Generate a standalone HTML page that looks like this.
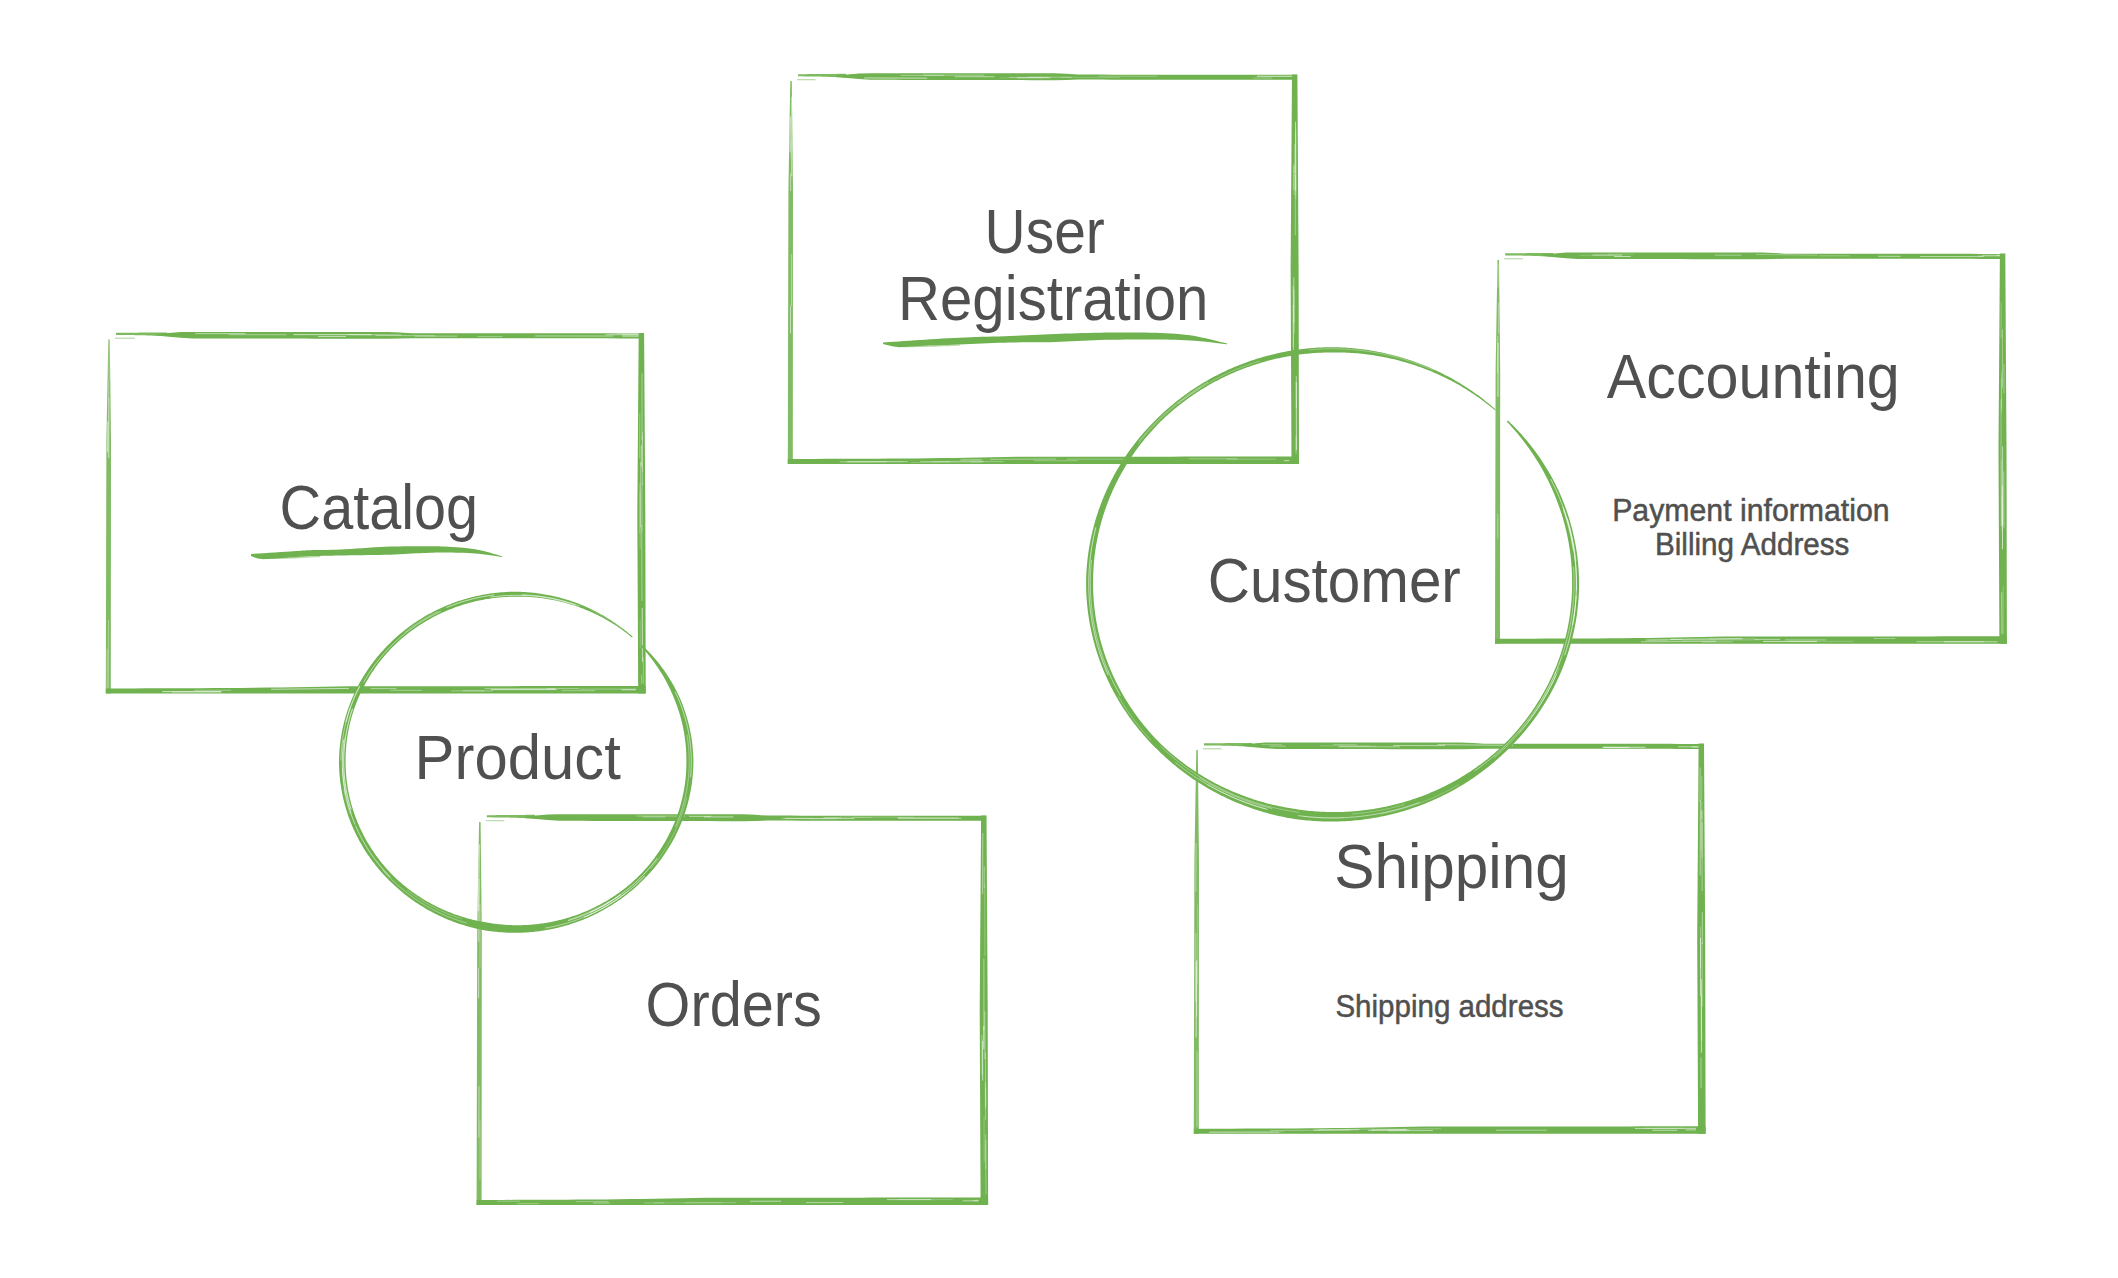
<!DOCTYPE html>
<html><head><meta charset="utf-8"><style>
html,body{margin:0;padding:0;background:#fff;width:2118px;height:1278px;overflow:hidden}
svg{display:block}
text{font-family:"Liberation Sans",sans-serif;fill:#505050}
</style></head><body>
<svg width="2118" height="1278" viewBox="0 0 2118 1278">
<rect width="2118" height="1278" fill="#fff"/>
<polygon points="790.30,81.00 790.13,90.58 789.97,100.15 789.80,109.72 789.64,119.30 789.47,128.88 789.31,138.45 789.14,148.03 788.98,157.60 788.81,167.18 788.65,176.75 788.48,186.32 788.39,195.90 788.37,205.47 788.35,215.05 788.33,224.62 788.31,234.20 788.28,243.78 788.26,253.35 788.24,262.93 788.22,272.50 788.20,282.07 788.18,291.65 788.16,301.23 788.14,310.80 788.12,320.38 788.09,329.95 788.07,339.52 788.05,349.10 788.03,358.68 788.01,368.25 787.99,377.82 787.97,387.40 787.95,396.98 787.93,406.55 787.91,416.12 787.88,425.70 787.86,435.27 787.84,444.85 787.82,454.43 787.80,464.00 792.80,464.00 792.81,454.43 792.81,444.85 792.82,435.27 792.83,425.70 792.84,416.12 792.84,406.55 792.85,396.98 792.86,387.40 792.86,377.82 792.87,368.25 792.88,358.68 792.88,349.10 792.89,339.52 792.90,329.95 792.91,320.38 792.91,310.80 792.92,301.23 792.93,291.65 792.93,282.07 792.94,272.50 792.95,262.93 792.95,253.35 792.96,243.78 792.97,234.20 792.98,224.62 792.98,215.05 792.99,205.47 793.00,195.90 792.95,186.32 792.84,176.75 792.74,167.18 792.64,157.60 792.53,148.03 792.43,138.45 792.32,128.88 792.22,119.30 792.11,109.72 792.01,100.15 791.90,90.58 791.80,81.00" fill="#6fb24f" fill-opacity="0.88"/>
<line x1="791.60" y1="254.3" x2="791.54" y2="305.6" stroke="#fff" stroke-width="0.73" stroke-opacity="0.55" stroke-linecap="round"/>
<line x1="790.56" y1="306.0" x2="790.52" y2="333.0" stroke="#fff" stroke-width="0.81" stroke-opacity="0.67" stroke-linecap="round"/>
<line x1="790.42" y1="117.0" x2="790.11" y2="151.8" stroke="#fff" stroke-width="0.90" stroke-opacity="0.63" stroke-linecap="round"/>
<line x1="791.45" y1="97.0" x2="791.72" y2="175.9" stroke="#fff" stroke-width="0.83" stroke-opacity="0.60" stroke-linecap="round"/>
<line x1="790.90" y1="141.3" x2="790.86" y2="157.3" stroke="#fff" stroke-width="0.53" stroke-opacity="0.43" stroke-linecap="round"/>
<line x1="790.68" y1="173.7" x2="790.62" y2="190.6" stroke="#fff" stroke-width="0.72" stroke-opacity="0.69" stroke-linecap="round"/>
<polygon points="798.00,74.20 799.20,74.19 800.40,74.18 801.60,74.17 802.80,74.16 804.00,74.15 805.20,74.14 806.40,74.13 807.60,74.12 808.80,74.11 810.00,74.10 811.20,74.09 812.40,74.08 813.60,74.07 814.80,74.06 816.00,74.05 817.20,74.04 818.40,74.03 819.60,74.02 820.80,74.01 822.00,74.00 823.19,73.99 824.39,73.98 825.59,73.97 826.79,73.96 827.99,73.95 829.19,73.94 830.39,73.93 831.59,73.92 832.79,73.91 833.99,73.90 835.19,73.89 836.39,73.88 837.59,73.87 838.79,73.86 839.99,73.85 841.19,73.84 842.39,73.83 843.59,73.82 844.79,73.81 845.99,73.80 845.99,77.50 844.79,77.46 843.59,77.42 842.39,77.37 841.19,77.33 839.99,77.29 838.79,77.25 837.59,77.20 836.39,77.16 835.19,77.12 833.99,77.08 832.79,77.03 831.59,76.99 830.39,76.95 829.19,76.91 827.99,76.86 826.79,76.82 825.59,76.78 824.39,76.74 823.19,76.69 822.00,76.65 820.80,76.61 819.60,76.59 818.40,76.57 817.20,76.56 816.00,76.54 814.80,76.52 813.60,76.51 812.40,76.49 811.20,76.48 810.00,76.46 808.80,76.44 807.60,76.43 806.40,76.41 805.20,76.40 804.00,76.38 802.80,76.36 801.60,76.35 800.40,76.33 799.20,76.32 798.00,76.30" fill="#6fb24f" fill-opacity="0.90"/>
<polygon points="797.00,79.00 797.46,79.00 797.92,79.00 798.38,79.00 798.85,79.00 799.31,79.00 799.77,79.00 800.23,79.00 800.69,79.00 801.15,79.00 801.61,79.00 802.07,79.00 802.53,79.00 803.00,79.00 803.46,79.00 803.92,79.00 804.38,79.00 804.84,79.00 805.30,79.00 805.76,79.00 806.23,79.00 806.69,79.00 807.15,79.00 807.61,79.00 808.07,79.00 808.53,79.00 808.99,79.00 809.45,79.00 809.92,79.00 810.38,79.00 810.84,79.00 811.30,79.00 811.76,79.00 812.22,79.00 812.68,79.00 813.14,79.00 813.61,79.00 814.07,79.00 814.53,79.00 814.99,79.00 815.45,79.00 815.45,80.30 814.99,80.30 814.53,80.30 814.07,80.30 813.61,80.30 813.14,80.30 812.68,80.30 812.22,80.30 811.76,80.30 811.30,80.30 810.84,80.30 810.38,80.30 809.92,80.30 809.45,80.30 808.99,80.30 808.53,80.30 808.07,80.30 807.61,80.30 807.15,80.30 806.69,80.30 806.23,80.30 805.76,80.30 805.30,80.30 804.84,80.30 804.38,80.30 803.92,80.30 803.46,80.30 803.00,80.30 802.53,80.30 802.07,80.30 801.61,80.30 801.15,80.30 800.69,80.30 800.23,80.30 799.77,80.30 799.31,80.30 798.85,80.30 798.38,80.30 797.92,80.30 797.46,80.30 797.00,80.30" fill="#6fb24f" fill-opacity="0.45"/>
<polygon points="835.81,75.50 847.34,74.50 858.87,73.51 870.40,73.30 881.93,73.30 893.46,73.30 904.99,73.30 916.52,73.30 928.05,73.30 939.58,73.30 951.11,73.30 962.64,73.30 974.17,73.30 985.70,73.30 997.23,73.30 1008.76,73.30 1020.29,73.30 1031.82,73.30 1043.35,73.30 1054.88,73.30 1066.40,73.86 1077.93,74.60 1089.46,74.61 1100.99,74.62 1112.52,74.63 1124.05,74.64 1135.58,74.65 1147.11,74.66 1158.64,74.68 1170.17,74.69 1181.70,74.70 1193.23,74.71 1204.76,74.72 1216.29,74.73 1227.82,74.74 1239.35,74.75 1250.88,74.76 1262.41,74.77 1273.94,74.78 1285.47,74.79 1297.00,74.80 1297.00,79.80 1285.47,79.79 1273.94,79.78 1262.41,79.77 1250.88,79.76 1239.35,79.75 1227.82,79.74 1216.29,79.73 1204.76,79.72 1193.23,79.71 1181.70,79.70 1170.17,79.69 1158.64,79.68 1147.11,79.66 1135.58,79.65 1124.05,79.64 1112.52,79.63 1100.99,79.62 1089.46,79.61 1077.93,79.60 1066.40,79.94 1054.88,80.19 1043.35,80.17 1031.82,80.14 1020.29,80.12 1008.76,80.09 997.23,80.07 985.70,80.05 974.17,80.02 962.64,80.00 951.11,79.98 939.58,79.95 928.05,79.93 916.52,79.90 904.99,79.88 893.46,79.86 881.93,79.83 870.40,79.81 858.87,79.11 847.34,78.06 835.81,77.00" fill="#6fb24f"/>
<line x1="1061.8" y1="77.35" x2="1119.5" y2="77.56" stroke="#fff" stroke-width="0.57" stroke-opacity="0.35" stroke-linecap="round"/>
<line x1="1017.4" y1="77.76" x2="1050.3" y2="77.81" stroke="#fff" stroke-width="0.85" stroke-opacity="0.59" stroke-linecap="round"/>
<line x1="1098.9" y1="76.23" x2="1156.9" y2="76.29" stroke="#fff" stroke-width="0.72" stroke-opacity="0.41" stroke-linecap="round"/>
<line x1="1253.3" y1="78.06" x2="1272.1" y2="78.07" stroke="#fff" stroke-width="0.54" stroke-opacity="0.62" stroke-linecap="round"/>
<line x1="1000.7" y1="77.85" x2="1042.0" y2="77.91" stroke="#fff" stroke-width="0.51" stroke-opacity="0.37" stroke-linecap="round"/>
<line x1="1257.3" y1="76.24" x2="1295.0" y2="76.28" stroke="#fff" stroke-width="0.99" stroke-opacity="0.73" stroke-linecap="round"/>
<line x1="901.0" y1="75.39" x2="943.5" y2="75.41" stroke="#fff" stroke-width="0.66" stroke-opacity="0.60" stroke-linecap="round"/>
<line x1="923.7" y1="75.12" x2="984.0" y2="75.16" stroke="#fff" stroke-width="0.59" stroke-opacity="0.68" stroke-linecap="round"/>
<line x1="1028.9" y1="77.05" x2="1071.1" y2="77.27" stroke="#fff" stroke-width="0.74" stroke-opacity="0.50" stroke-linecap="round"/>
<line x1="864.6" y1="77.95" x2="926.8" y2="78.16" stroke="#fff" stroke-width="0.99" stroke-opacity="0.62" stroke-linecap="round"/>
<line x1="1009.3" y1="77.34" x2="1047.9" y2="77.39" stroke="#fff" stroke-width="0.84" stroke-opacity="0.40" stroke-linecap="round"/>
<line x1="955.4" y1="76.68" x2="994.0" y2="76.72" stroke="#fff" stroke-width="0.91" stroke-opacity="0.55" stroke-linecap="round"/>
<polygon points="1292.00,74.50 1291.93,84.24 1291.86,93.97 1291.79,103.71 1291.72,113.45 1291.65,123.19 1291.58,132.93 1291.51,142.66 1291.44,152.40 1291.37,162.14 1291.30,171.88 1291.23,181.61 1291.16,191.35 1291.09,201.09 1291.02,210.82 1290.95,220.56 1290.88,230.30 1290.81,240.04 1290.74,249.78 1290.67,259.51 1290.60,269.25 1290.65,278.99 1290.69,288.73 1290.74,298.46 1290.78,308.20 1290.83,317.94 1290.87,327.68 1290.92,337.41 1290.96,347.15 1291.01,356.89 1291.05,366.62 1291.10,376.36 1291.14,386.10 1291.19,395.84 1291.23,405.57 1291.28,415.31 1291.32,425.05 1291.37,434.79 1291.41,444.52 1291.46,454.26 1291.50,464.00 1299.00,464.00 1298.98,454.26 1298.96,444.52 1298.94,434.79 1298.92,425.05 1298.90,415.31 1298.88,405.57 1298.86,395.84 1298.84,386.10 1298.82,376.36 1298.80,366.62 1298.78,356.89 1298.76,347.15 1298.74,337.41 1298.72,327.68 1298.70,317.94 1298.68,308.20 1298.66,298.46 1298.64,288.73 1298.62,278.99 1298.60,269.25 1298.54,259.51 1298.48,249.78 1298.42,240.04 1298.36,230.30 1298.30,220.56 1298.24,210.82 1298.18,201.09 1298.12,191.35 1298.06,181.61 1298.00,171.88 1297.94,162.14 1297.88,152.40 1297.82,142.66 1297.76,132.93 1297.70,123.19 1297.64,113.45 1297.58,103.71 1297.52,93.97 1297.46,84.24 1297.40,74.50" fill="#6fb24f"/>
<line x1="1295.27" y1="175.4" x2="1295.31" y2="234.9" stroke="#fff" stroke-width="0.92" stroke-opacity="0.42" stroke-linecap="round"/>
<line x1="1293.75" y1="164.7" x2="1293.69" y2="189.3" stroke="#fff" stroke-width="0.87" stroke-opacity="0.40" stroke-linecap="round"/>
<line x1="1293.81" y1="277.8" x2="1293.91" y2="306.7" stroke="#fff" stroke-width="0.72" stroke-opacity="0.69" stroke-linecap="round"/>
<line x1="1293.84" y1="306.8" x2="1293.90" y2="322.7" stroke="#fff" stroke-width="0.57" stroke-opacity="0.70" stroke-linecap="round"/>
<line x1="1296.24" y1="382.5" x2="1296.43" y2="449.9" stroke="#fff" stroke-width="0.87" stroke-opacity="0.73" stroke-linecap="round"/>
<line x1="1296.31" y1="376.5" x2="1296.40" y2="408.1" stroke="#fff" stroke-width="0.74" stroke-opacity="0.65" stroke-linecap="round"/>
<line x1="1294.13" y1="290.1" x2="1294.28" y2="333.0" stroke="#fff" stroke-width="0.71" stroke-opacity="0.48" stroke-linecap="round"/>
<line x1="1295.58" y1="122.1" x2="1295.68" y2="190.4" stroke="#fff" stroke-width="0.99" stroke-opacity="0.63" stroke-linecap="round"/>
<line x1="1293.21" y1="286.4" x2="1293.45" y2="350.0" stroke="#fff" stroke-width="0.84" stroke-opacity="0.53" stroke-linecap="round"/>
<line x1="1294.74" y1="144.4" x2="1294.73" y2="172.6" stroke="#fff" stroke-width="0.63" stroke-opacity="0.53" stroke-linecap="round"/>
<line x1="1293.26" y1="305.7" x2="1293.42" y2="346.4" stroke="#fff" stroke-width="0.75" stroke-opacity="0.44" stroke-linecap="round"/>
<line x1="1294.21" y1="166.6" x2="1294.17" y2="194.3" stroke="#fff" stroke-width="0.54" stroke-opacity="0.61" stroke-linecap="round"/>
<line x1="1295.99" y1="436.6" x2="1296.04" y2="454.0" stroke="#fff" stroke-width="0.97" stroke-opacity="0.37" stroke-linecap="round"/>
<line x1="1295.71" y1="131.3" x2="1295.83" y2="198.7" stroke="#fff" stroke-width="0.82" stroke-opacity="0.41" stroke-linecap="round"/>
<polygon points="787.80,459.00 800.58,458.95 813.36,458.90 826.14,458.85 838.92,458.80 851.70,458.75 864.48,458.70 877.26,458.65 890.04,458.61 902.82,458.56 915.60,458.51 928.38,458.31 941.16,458.10 953.94,457.89 966.72,457.67 979.50,457.46 992.28,457.25 1005.06,457.03 1017.84,456.82 1030.62,456.79 1043.40,456.77 1056.18,456.76 1068.96,456.75 1081.74,456.73 1094.52,456.72 1107.30,456.71 1120.08,456.69 1132.86,456.68 1145.64,456.66 1158.42,456.65 1171.20,456.64 1183.98,456.62 1196.76,456.61 1209.54,456.60 1222.32,456.58 1235.10,456.57 1247.88,456.55 1260.66,456.54 1273.44,456.53 1286.22,456.51 1299.00,456.50 1299.00,464.00 1286.22,464.00 1273.44,464.00 1260.66,464.00 1247.88,464.00 1235.10,464.00 1222.32,464.00 1209.54,464.00 1196.76,464.00 1183.98,464.00 1171.20,464.00 1158.42,464.00 1145.64,464.00 1132.86,464.00 1120.08,464.00 1107.30,464.00 1094.52,464.00 1081.74,464.00 1068.96,464.00 1056.18,464.00 1043.40,464.00 1030.62,464.00 1017.84,464.00 1005.06,464.00 992.28,464.00 979.50,464.00 966.72,464.00 953.94,464.00 941.16,464.00 928.38,464.00 915.60,464.00 902.82,464.00 890.04,464.00 877.26,464.00 864.48,464.00 851.70,464.00 838.92,464.00 826.14,464.00 813.36,464.00 800.58,464.00 787.80,464.00" fill="#6fb24f"/>
<line x1="846.9" y1="461.78" x2="907.5" y2="461.68" stroke="#fff" stroke-width="0.97" stroke-opacity="0.46" stroke-linecap="round"/>
<line x1="920.6" y1="461.66" x2="983.3" y2="461.22" stroke="#fff" stroke-width="0.65" stroke-opacity="0.62" stroke-linecap="round"/>
<line x1="990.4" y1="459.36" x2="1055.9" y2="459.00" stroke="#fff" stroke-width="0.61" stroke-opacity="0.71" stroke-linecap="round"/>
<line x1="971.2" y1="461.77" x2="1003.2" y2="461.59" stroke="#fff" stroke-width="0.82" stroke-opacity="0.41" stroke-linecap="round"/>
<line x1="1066.9" y1="459.16" x2="1125.1" y2="459.12" stroke="#fff" stroke-width="0.83" stroke-opacity="0.40" stroke-linecap="round"/>
<line x1="960.8" y1="459.97" x2="981.3" y2="459.74" stroke="#fff" stroke-width="0.99" stroke-opacity="0.51" stroke-linecap="round"/>
<line x1="1284.3" y1="460.66" x2="1289.0" y2="460.66" stroke="#fff" stroke-width="0.94" stroke-opacity="0.62" stroke-linecap="round"/>
<line x1="849.2" y1="461.73" x2="902.5" y2="461.64" stroke="#fff" stroke-width="0.59" stroke-opacity="0.39" stroke-linecap="round"/>
<line x1="1227.0" y1="459.15" x2="1275.4" y2="459.12" stroke="#fff" stroke-width="0.73" stroke-opacity="0.44" stroke-linecap="round"/>
<line x1="1189.1" y1="458.84" x2="1236.7" y2="458.81" stroke="#fff" stroke-width="0.91" stroke-opacity="0.39" stroke-linecap="round"/>
<line x1="932.9" y1="461.81" x2="949.8" y2="461.70" stroke="#fff" stroke-width="0.56" stroke-opacity="0.56" stroke-linecap="round"/>
<line x1="840.0" y1="461.88" x2="886.3" y2="461.81" stroke="#fff" stroke-width="0.77" stroke-opacity="0.53" stroke-linecap="round"/>
<line x1="1034.0" y1="460.74" x2="1077.4" y2="460.72" stroke="#fff" stroke-width="0.55" stroke-opacity="0.54" stroke-linecap="round"/>
<line x1="911.0" y1="462.46" x2="982.2" y2="462.15" stroke="#fff" stroke-width="0.53" stroke-opacity="0.41" stroke-linecap="round"/>
<polygon points="108.30,339.60 108.13,348.45 107.97,357.30 107.80,366.14 107.64,374.99 107.47,383.84 107.30,392.69 107.14,401.53 106.97,410.38 106.81,419.23 106.64,428.08 106.47,436.92 106.39,445.77 106.37,454.62 106.35,463.47 106.33,472.31 106.30,481.16 106.28,490.01 106.26,498.86 106.24,507.70 106.22,516.55 106.20,525.40 106.18,534.25 106.16,543.09 106.14,551.94 106.12,560.79 106.09,569.63 106.07,578.48 106.05,587.33 106.03,596.18 106.01,605.03 105.99,613.87 105.97,622.72 105.95,631.57 105.93,640.41 105.91,649.26 105.88,658.11 105.86,666.96 105.84,675.81 105.82,684.65 105.80,693.50 110.80,693.50 110.81,684.65 110.81,675.81 110.82,666.96 110.83,658.11 110.84,649.26 110.84,640.41 110.85,631.57 110.86,622.72 110.86,613.87 110.87,605.03 110.88,596.18 110.88,587.33 110.89,578.48 110.90,569.63 110.91,560.79 110.91,551.94 110.92,543.09 110.93,534.25 110.93,525.40 110.94,516.55 110.95,507.70 110.95,498.86 110.96,490.01 110.97,481.16 110.98,472.31 110.98,463.47 110.99,454.62 111.00,445.77 110.95,436.92 110.85,428.08 110.74,419.23 110.64,410.38 110.53,401.53 110.43,392.69 110.32,383.84 110.22,374.99 110.11,366.14 110.01,357.30 109.90,348.45 109.80,339.60" fill="#6fb24f" fill-opacity="0.88"/>
<line x1="109.07" y1="398.0" x2="108.99" y2="457.8" stroke="#fff" stroke-width="0.74" stroke-opacity="0.44" stroke-linecap="round"/>
<line x1="108.45" y1="620.1" x2="108.34" y2="687.6" stroke="#fff" stroke-width="0.75" stroke-opacity="0.44" stroke-linecap="round"/>
<line x1="109.11" y1="340.7" x2="109.03" y2="379.8" stroke="#fff" stroke-width="0.53" stroke-opacity="0.67" stroke-linecap="round"/>
<line x1="107.85" y1="421.8" x2="107.63" y2="451.9" stroke="#fff" stroke-width="1.00" stroke-opacity="0.65" stroke-linecap="round"/>
<line x1="107.22" y1="649.3" x2="107.14" y2="693.5" stroke="#fff" stroke-width="0.66" stroke-opacity="0.55" stroke-linecap="round"/>
<line x1="108.73" y1="380.6" x2="108.37" y2="457.5" stroke="#fff" stroke-width="0.58" stroke-opacity="0.68" stroke-linecap="round"/>
<polygon points="116.00,332.80 117.28,332.79 118.56,332.78 119.84,332.77 121.11,332.76 122.39,332.75 123.67,332.74 124.95,332.73 126.23,332.72 127.51,332.71 128.79,332.70 130.07,332.69 131.34,332.68 132.62,332.67 133.90,332.66 135.18,332.65 136.46,332.64 137.74,332.63 139.02,332.62 140.29,332.61 141.57,332.60 142.85,332.59 144.13,332.58 145.41,332.57 146.69,332.56 147.97,332.55 149.25,332.54 150.52,332.53 151.80,332.52 153.08,332.51 154.36,332.50 155.64,332.49 156.92,332.48 158.20,332.47 159.47,332.46 160.75,332.45 162.03,332.44 163.31,332.43 164.59,332.42 165.87,332.41 167.15,332.40 167.15,336.10 165.87,336.06 164.59,336.01 163.31,335.97 162.03,335.93 160.75,335.89 159.47,335.84 158.20,335.80 156.92,335.76 155.64,335.71 154.36,335.67 153.08,335.63 151.80,335.59 150.52,335.54 149.25,335.50 147.97,335.46 146.69,335.42 145.41,335.37 144.13,335.33 142.85,335.29 141.57,335.24 140.29,335.20 139.02,335.18 137.74,335.17 136.46,335.15 135.18,335.14 133.90,335.12 132.62,335.11 131.34,335.09 130.07,335.07 128.79,335.06 127.51,335.04 126.23,335.03 124.95,335.01 123.67,334.99 122.39,334.98 121.11,334.96 119.84,334.95 118.56,334.93 117.28,334.92 116.00,334.90" fill="#6fb24f" fill-opacity="0.90"/>
<polygon points="115.00,337.60 115.50,337.60 115.99,337.60 116.49,337.60 116.99,337.60 117.49,337.60 117.98,337.60 118.48,337.60 118.98,337.60 119.47,337.60 119.97,337.60 120.47,337.60 120.97,337.60 121.46,337.60 121.96,337.60 122.46,337.60 122.95,337.60 123.45,337.60 123.95,337.60 124.45,337.60 124.94,337.60 125.44,337.60 125.94,337.60 126.43,337.60 126.93,337.60 127.43,337.60 127.93,337.60 128.42,337.60 128.92,337.60 129.42,337.60 129.91,337.60 130.41,337.60 130.91,337.60 131.41,337.60 131.90,337.60 132.40,337.60 132.90,337.60 133.39,337.60 133.89,337.60 134.39,337.60 134.88,337.60 134.88,338.90 134.39,338.90 133.89,338.90 133.39,338.90 132.90,338.90 132.40,338.90 131.90,338.90 131.41,338.90 130.91,338.90 130.41,338.90 129.91,338.90 129.42,338.90 128.92,338.90 128.42,338.90 127.93,338.90 127.43,338.90 126.93,338.90 126.43,338.90 125.94,338.90 125.44,338.90 124.94,338.90 124.45,338.90 123.95,338.90 123.45,338.90 122.95,338.90 122.46,338.90 121.96,338.90 121.46,338.90 120.97,338.90 120.47,338.90 119.97,338.90 119.47,338.90 118.98,338.90 118.48,338.90 117.98,338.90 117.49,338.90 116.99,338.90 116.49,338.90 115.99,338.90 115.50,338.90 115.00,338.90" fill="#6fb24f" fill-opacity="0.45"/>
<polygon points="156.39,334.10 168.58,333.10 180.76,332.11 192.94,331.90 205.12,331.90 217.31,331.90 229.49,331.90 241.67,331.90 253.85,331.90 266.04,331.90 278.22,331.90 290.40,331.90 302.59,331.90 314.77,331.90 326.95,331.90 339.13,331.90 351.32,331.90 363.50,331.90 375.68,331.90 387.86,331.90 400.05,332.47 412.23,333.20 424.41,333.21 436.59,333.22 448.78,333.23 460.96,333.24 473.14,333.25 485.33,333.26 497.51,333.28 509.69,333.29 521.87,333.30 534.06,333.31 546.24,333.32 558.42,333.33 570.60,333.34 582.79,333.35 594.97,333.36 607.15,333.37 619.33,333.38 631.52,333.39 643.70,333.40 643.70,338.40 631.52,338.39 619.33,338.38 607.15,338.37 594.97,338.36 582.79,338.35 570.60,338.34 558.42,338.33 546.24,338.32 534.06,338.31 521.87,338.30 509.69,338.29 497.51,338.28 485.33,338.26 473.14,338.25 460.96,338.24 448.78,338.23 436.59,338.22 424.41,338.21 412.23,338.20 400.05,338.54 387.86,338.79 375.68,338.77 363.50,338.74 351.32,338.72 339.13,338.69 326.95,338.67 314.77,338.65 302.59,338.62 290.40,338.60 278.22,338.58 266.04,338.55 253.85,338.53 241.67,338.50 229.49,338.48 217.31,338.46 205.12,338.43 192.94,338.41 180.76,337.71 168.58,336.66 156.39,335.60" fill="#6fb24f"/>
<line x1="622.1" y1="334.69" x2="641.7" y2="334.71" stroke="#fff" stroke-width="1.00" stroke-opacity="0.42" stroke-linecap="round"/>
<line x1="229.1" y1="334.68" x2="286.4" y2="334.73" stroke="#fff" stroke-width="0.94" stroke-opacity="0.44" stroke-linecap="round"/>
<line x1="622.7" y1="336.13" x2="641.7" y2="336.15" stroke="#fff" stroke-width="0.97" stroke-opacity="0.62" stroke-linecap="round"/>
<line x1="606.0" y1="334.74" x2="641.7" y2="334.77" stroke="#fff" stroke-width="0.94" stroke-opacity="0.59" stroke-linecap="round"/>
<line x1="318.3" y1="336.46" x2="345.6" y2="336.49" stroke="#fff" stroke-width="0.79" stroke-opacity="0.73" stroke-linecap="round"/>
<line x1="535.6" y1="335.97" x2="613.1" y2="336.04" stroke="#fff" stroke-width="0.85" stroke-opacity="0.59" stroke-linecap="round"/>
<line x1="293.8" y1="334.62" x2="371.0" y2="334.69" stroke="#fff" stroke-width="0.89" stroke-opacity="0.73" stroke-linecap="round"/>
<line x1="477.9" y1="336.57" x2="502.1" y2="336.59" stroke="#fff" stroke-width="0.83" stroke-opacity="0.42" stroke-linecap="round"/>
<line x1="195.6" y1="333.63" x2="245.1" y2="333.66" stroke="#fff" stroke-width="0.96" stroke-opacity="0.55" stroke-linecap="round"/>
<line x1="415.2" y1="336.11" x2="456.8" y2="336.14" stroke="#fff" stroke-width="0.96" stroke-opacity="0.47" stroke-linecap="round"/>
<line x1="347.9" y1="334.62" x2="400.8" y2="334.91" stroke="#fff" stroke-width="0.80" stroke-opacity="0.57" stroke-linecap="round"/>
<line x1="375.9" y1="335.43" x2="434.7" y2="335.79" stroke="#fff" stroke-width="0.54" stroke-opacity="0.75" stroke-linecap="round"/>
<polygon points="638.70,333.10 638.63,342.11 638.56,351.12 638.49,360.13 638.42,369.14 638.35,378.15 638.28,387.16 638.21,396.17 638.14,405.18 638.07,414.19 638.00,423.20 637.93,432.21 637.86,441.22 637.79,450.23 637.72,459.24 637.65,468.25 637.58,477.26 637.51,486.27 637.44,495.28 637.37,504.29 637.30,513.30 637.35,522.31 637.39,531.32 637.44,540.33 637.48,549.34 637.53,558.35 637.57,567.36 637.62,576.37 637.66,585.38 637.71,594.39 637.75,603.40 637.80,612.41 637.84,621.42 637.89,630.43 637.93,639.44 637.98,648.45 638.02,657.46 638.07,666.47 638.11,675.48 638.16,684.49 638.20,693.50 645.70,693.50 645.68,684.49 645.66,675.48 645.64,666.47 645.62,657.46 645.60,648.45 645.58,639.44 645.56,630.43 645.54,621.42 645.52,612.41 645.50,603.40 645.48,594.39 645.46,585.38 645.44,576.37 645.42,567.36 645.40,558.35 645.38,549.34 645.36,540.33 645.34,531.32 645.32,522.31 645.30,513.30 645.24,504.29 645.18,495.28 645.12,486.27 645.06,477.26 645.00,468.25 644.94,459.24 644.88,450.23 644.82,441.22 644.76,432.21 644.70,423.20 644.64,414.19 644.58,405.18 644.52,396.17 644.46,387.16 644.40,378.15 644.34,369.14 644.28,360.13 644.22,351.12 644.16,342.11 644.10,333.10" fill="#6fb24f"/>
<line x1="643.31" y1="657.4" x2="643.39" y2="683.5" stroke="#fff" stroke-width="0.54" stroke-opacity="0.59" stroke-linecap="round"/>
<line x1="639.92" y1="483.6" x2="639.90" y2="533.1" stroke="#fff" stroke-width="0.60" stroke-opacity="0.53" stroke-linecap="round"/>
<line x1="639.80" y1="413.3" x2="639.62" y2="457.9" stroke="#fff" stroke-width="0.54" stroke-opacity="0.63" stroke-linecap="round"/>
<line x1="642.20" y1="482.7" x2="642.30" y2="531.1" stroke="#fff" stroke-width="0.68" stroke-opacity="0.37" stroke-linecap="round"/>
<line x1="642.25" y1="608.3" x2="642.43" y2="661.6" stroke="#fff" stroke-width="0.81" stroke-opacity="0.74" stroke-linecap="round"/>
<line x1="640.85" y1="462.5" x2="640.83" y2="526.8" stroke="#fff" stroke-width="0.79" stroke-opacity="0.61" stroke-linecap="round"/>
<line x1="641.25" y1="445.7" x2="641.23" y2="466.2" stroke="#fff" stroke-width="0.86" stroke-opacity="0.59" stroke-linecap="round"/>
<line x1="640.09" y1="491.8" x2="640.17" y2="548.6" stroke="#fff" stroke-width="0.59" stroke-opacity="0.48" stroke-linecap="round"/>
<line x1="640.20" y1="619.6" x2="640.31" y2="647.3" stroke="#fff" stroke-width="0.55" stroke-opacity="0.37" stroke-linecap="round"/>
<line x1="642.44" y1="432.2" x2="642.53" y2="484.4" stroke="#fff" stroke-width="0.67" stroke-opacity="0.50" stroke-linecap="round"/>
<line x1="642.30" y1="436.7" x2="642.35" y2="471.5" stroke="#fff" stroke-width="0.77" stroke-opacity="0.45" stroke-linecap="round"/>
<line x1="642.00" y1="373.8" x2="642.06" y2="439.7" stroke="#fff" stroke-width="0.91" stroke-opacity="0.45" stroke-linecap="round"/>
<line x1="641.72" y1="525.8" x2="641.97" y2="600.5" stroke="#fff" stroke-width="0.97" stroke-opacity="0.42" stroke-linecap="round"/>
<line x1="641.57" y1="674.8" x2="641.60" y2="683.5" stroke="#fff" stroke-width="0.51" stroke-opacity="0.67" stroke-linecap="round"/>
<polygon points="105.80,688.50 119.30,688.45 132.80,688.40 146.29,688.35 159.79,688.30 173.29,688.25 186.79,688.20 200.28,688.15 213.78,688.10 227.28,688.06 240.78,688.01 254.27,687.81 267.77,687.60 281.27,687.39 294.77,687.17 308.26,686.96 321.76,686.75 335.26,686.53 348.75,686.32 362.25,686.29 375.75,686.27 389.25,686.26 402.75,686.25 416.24,686.23 429.74,686.22 443.24,686.21 456.74,686.19 470.23,686.18 483.73,686.16 497.23,686.15 510.73,686.14 524.22,686.12 537.72,686.11 551.22,686.10 564.72,686.08 578.21,686.07 591.71,686.05 605.21,686.04 618.71,686.03 632.20,686.01 645.70,686.00 645.70,693.50 632.20,693.50 618.71,693.50 605.21,693.50 591.71,693.50 578.21,693.50 564.72,693.50 551.22,693.50 537.72,693.50 524.22,693.50 510.73,693.50 497.23,693.50 483.73,693.50 470.23,693.50 456.74,693.50 443.24,693.50 429.74,693.50 416.24,693.50 402.75,693.50 389.25,693.50 375.75,693.50 362.25,693.50 348.75,693.50 335.26,693.50 321.76,693.50 308.26,693.50 294.77,693.50 281.27,693.50 267.77,693.50 254.27,693.50 240.78,693.50 227.28,693.50 213.78,693.50 200.28,693.50 186.79,693.50 173.29,693.50 159.79,693.50 146.29,693.50 132.80,693.50 119.30,693.50 105.80,693.50" fill="#6fb24f"/>
<line x1="485.1" y1="688.67" x2="554.6" y2="688.62" stroke="#fff" stroke-width="1.00" stroke-opacity="0.43" stroke-linecap="round"/>
<line x1="463.3" y1="690.79" x2="484.3" y2="690.78" stroke="#fff" stroke-width="0.58" stroke-opacity="0.63" stroke-linecap="round"/>
<line x1="491.4" y1="689.61" x2="556.2" y2="689.58" stroke="#fff" stroke-width="0.93" stroke-opacity="0.75" stroke-linecap="round"/>
<line x1="172.5" y1="692.08" x2="221.1" y2="692.03" stroke="#fff" stroke-width="0.87" stroke-opacity="0.53" stroke-linecap="round"/>
<line x1="271.5" y1="689.28" x2="348.5" y2="688.42" stroke="#fff" stroke-width="0.88" stroke-opacity="0.69" stroke-linecap="round"/>
<line x1="194.6" y1="690.32" x2="230.8" y2="690.24" stroke="#fff" stroke-width="0.77" stroke-opacity="0.50" stroke-linecap="round"/>
<line x1="580.0" y1="689.10" x2="635.7" y2="689.07" stroke="#fff" stroke-width="0.95" stroke-opacity="0.38" stroke-linecap="round"/>
<line x1="162.7" y1="691.67" x2="221.0" y2="691.60" stroke="#fff" stroke-width="0.91" stroke-opacity="0.75" stroke-linecap="round"/>
<line x1="562.2" y1="690.69" x2="594.6" y2="690.68" stroke="#fff" stroke-width="0.96" stroke-opacity="0.39" stroke-linecap="round"/>
<line x1="370.9" y1="688.60" x2="396.0" y2="688.58" stroke="#fff" stroke-width="0.74" stroke-opacity="0.62" stroke-linecap="round"/>
<line x1="622.0" y1="689.78" x2="635.7" y2="689.78" stroke="#fff" stroke-width="1.00" stroke-opacity="0.66" stroke-linecap="round"/>
<line x1="390.7" y1="690.35" x2="421.4" y2="690.34" stroke="#fff" stroke-width="0.63" stroke-opacity="0.61" stroke-linecap="round"/>
<line x1="451.7" y1="690.92" x2="492.2" y2="690.91" stroke="#fff" stroke-width="0.70" stroke-opacity="0.54" stroke-linecap="round"/>
<line x1="547.5" y1="688.64" x2="578.8" y2="688.62" stroke="#fff" stroke-width="0.79" stroke-opacity="0.52" stroke-linecap="round"/>
<polygon points="1497.50,260.10 1497.33,269.69 1497.17,279.29 1497.00,288.88 1496.84,298.47 1496.67,308.06 1496.51,317.66 1496.34,327.25 1496.18,336.84 1496.01,346.43 1495.85,356.02 1495.68,365.62 1495.59,375.21 1495.57,384.80 1495.55,394.39 1495.53,403.99 1495.51,413.58 1495.48,423.17 1495.46,432.76 1495.44,442.36 1495.42,451.95 1495.40,461.54 1495.38,471.13 1495.36,480.73 1495.34,490.32 1495.32,499.91 1495.29,509.50 1495.27,519.10 1495.25,528.69 1495.23,538.28 1495.21,547.88 1495.19,557.47 1495.17,567.06 1495.15,576.65 1495.13,586.24 1495.11,595.84 1495.08,605.43 1495.06,615.02 1495.04,624.62 1495.02,634.21 1495.00,643.80 1500.00,643.80 1500.01,634.21 1500.01,624.62 1500.02,615.02 1500.03,605.43 1500.04,595.84 1500.04,586.24 1500.05,576.65 1500.06,567.06 1500.06,557.47 1500.07,547.88 1500.08,538.28 1500.08,528.69 1500.09,519.10 1500.10,509.50 1500.11,499.91 1500.11,490.32 1500.12,480.73 1500.13,471.13 1500.13,461.54 1500.14,451.95 1500.15,442.36 1500.15,432.76 1500.16,423.17 1500.17,413.58 1500.18,403.99 1500.18,394.39 1500.19,384.80 1500.20,375.21 1500.15,365.62 1500.04,356.02 1499.94,346.43 1499.84,336.84 1499.73,327.25 1499.63,317.66 1499.52,308.06 1499.42,298.47 1499.31,288.88 1499.21,279.29 1499.10,269.69 1499.00,260.10" fill="#6fb24f" fill-opacity="0.88"/>
<line x1="1498.15" y1="264.8" x2="1498.04" y2="287.1" stroke="#fff" stroke-width="0.84" stroke-opacity="0.41" stroke-linecap="round"/>
<line x1="1498.46" y1="303.2" x2="1498.48" y2="333.3" stroke="#fff" stroke-width="0.57" stroke-opacity="0.65" stroke-linecap="round"/>
<line x1="1497.78" y1="514.2" x2="1497.74" y2="538.1" stroke="#fff" stroke-width="0.72" stroke-opacity="0.52" stroke-linecap="round"/>
<line x1="1496.30" y1="642.4" x2="1496.30" y2="643.8" stroke="#fff" stroke-width="0.97" stroke-opacity="0.51" stroke-linecap="round"/>
<line x1="1497.76" y1="336.3" x2="1497.59" y2="372.7" stroke="#fff" stroke-width="0.98" stroke-opacity="0.43" stroke-linecap="round"/>
<line x1="1498.08" y1="343.3" x2="1497.97" y2="396.4" stroke="#fff" stroke-width="0.98" stroke-opacity="0.69" stroke-linecap="round"/>
<polygon points="1505.20,253.30 1506.40,253.29 1507.60,253.28 1508.81,253.27 1510.01,253.26 1511.21,253.25 1512.41,253.24 1513.61,253.23 1514.81,253.22 1516.02,253.21 1517.22,253.20 1518.42,253.19 1519.62,253.18 1520.82,253.17 1522.02,253.16 1523.23,253.15 1524.43,253.14 1525.63,253.13 1526.83,253.12 1528.03,253.11 1529.23,253.10 1530.44,253.09 1531.64,253.08 1532.84,253.07 1534.04,253.06 1535.24,253.05 1536.44,253.04 1537.65,253.03 1538.85,253.02 1540.05,253.01 1541.25,253.00 1542.45,252.99 1543.65,252.98 1544.86,252.97 1546.06,252.96 1547.26,252.95 1548.46,252.94 1549.66,252.93 1550.86,252.92 1552.07,252.91 1553.27,252.90 1553.27,256.60 1552.07,256.56 1550.86,256.52 1549.66,256.47 1548.46,256.43 1547.26,256.39 1546.06,256.35 1544.86,256.30 1543.65,256.26 1542.45,256.22 1541.25,256.18 1540.05,256.13 1538.85,256.09 1537.65,256.05 1536.44,256.01 1535.24,255.96 1534.04,255.92 1532.84,255.88 1531.64,255.84 1530.44,255.79 1529.23,255.75 1528.03,255.71 1526.83,255.69 1525.63,255.67 1524.43,255.66 1523.23,255.64 1522.02,255.62 1520.82,255.61 1519.62,255.59 1518.42,255.58 1517.22,255.56 1516.02,255.54 1514.81,255.53 1513.61,255.51 1512.41,255.50 1511.21,255.48 1510.01,255.46 1508.81,255.45 1507.60,255.43 1506.40,255.42 1505.20,255.40" fill="#6fb24f" fill-opacity="0.90"/>
<polygon points="1504.20,258.10 1504.66,258.10 1505.12,258.10 1505.59,258.10 1506.05,258.10 1506.51,258.10 1506.97,258.10 1507.43,258.10 1507.90,258.10 1508.36,258.10 1508.82,258.10 1509.28,258.10 1509.75,258.10 1510.21,258.10 1510.67,258.10 1511.13,258.10 1511.59,258.10 1512.06,258.10 1512.52,258.10 1512.98,258.10 1513.44,258.10 1513.90,258.10 1514.37,258.10 1514.83,258.10 1515.29,258.10 1515.75,258.10 1516.22,258.10 1516.68,258.10 1517.14,258.10 1517.60,258.10 1518.06,258.10 1518.53,258.10 1518.99,258.10 1519.45,258.10 1519.91,258.10 1520.37,258.10 1520.84,258.10 1521.30,258.10 1521.76,258.10 1522.22,258.10 1522.68,258.10 1522.68,259.40 1522.22,259.40 1521.76,259.40 1521.30,259.40 1520.84,259.40 1520.37,259.40 1519.91,259.40 1519.45,259.40 1518.99,259.40 1518.53,259.40 1518.06,259.40 1517.60,259.40 1517.14,259.40 1516.68,259.40 1516.22,259.40 1515.75,259.40 1515.29,259.40 1514.83,259.40 1514.37,259.40 1513.90,259.40 1513.44,259.40 1512.98,259.40 1512.52,259.40 1512.06,259.40 1511.59,259.40 1511.13,259.40 1510.67,259.40 1510.21,259.40 1509.75,259.40 1509.28,259.40 1508.82,259.40 1508.36,259.40 1507.90,259.40 1507.43,259.40 1506.97,259.40 1506.51,259.40 1506.05,259.40 1505.59,259.40 1505.12,259.40 1504.66,259.40 1504.20,259.40" fill="#6fb24f" fill-opacity="0.45"/>
<polygon points="1543.07,254.60 1554.62,253.60 1566.16,252.61 1577.71,252.40 1589.26,252.40 1600.80,252.40 1612.35,252.40 1623.89,252.40 1635.44,252.40 1646.98,252.40 1658.53,252.40 1670.08,252.40 1681.62,252.40 1693.17,252.40 1704.71,252.40 1716.26,252.40 1727.80,252.40 1739.35,252.40 1750.90,252.40 1762.44,252.40 1773.99,252.96 1785.53,253.70 1797.08,253.71 1808.62,253.72 1820.17,253.73 1831.71,253.74 1843.26,253.75 1854.81,253.76 1866.35,253.78 1877.90,253.79 1889.44,253.80 1900.99,253.81 1912.53,253.82 1924.08,253.83 1935.63,253.84 1947.17,253.85 1958.72,253.86 1970.26,253.87 1981.81,253.88 1993.35,253.89 2004.90,253.90 2004.90,258.90 1993.35,258.89 1981.81,258.88 1970.26,258.87 1958.72,258.86 1947.17,258.85 1935.63,258.84 1924.08,258.83 1912.53,258.82 1900.99,258.81 1889.44,258.80 1877.90,258.79 1866.35,258.78 1854.81,258.76 1843.26,258.75 1831.71,258.74 1820.17,258.73 1808.62,258.72 1797.08,258.71 1785.53,258.70 1773.99,259.04 1762.44,259.29 1750.90,259.27 1739.35,259.24 1727.80,259.22 1716.26,259.19 1704.71,259.17 1693.17,259.15 1681.62,259.12 1670.08,259.10 1658.53,259.08 1646.98,259.05 1635.44,259.03 1623.89,259.00 1612.35,258.98 1600.80,258.96 1589.26,258.93 1577.71,258.91 1566.16,258.21 1554.62,257.16 1543.07,256.10" fill="#6fb24f"/>
<line x1="1592.8" y1="255.03" x2="1621.7" y2="255.05" stroke="#fff" stroke-width="0.95" stroke-opacity="0.55" stroke-linecap="round"/>
<line x1="1878.5" y1="256.31" x2="1900.1" y2="256.33" stroke="#fff" stroke-width="0.92" stroke-opacity="0.56" stroke-linecap="round"/>
<line x1="1978.3" y1="256.05" x2="2002.9" y2="256.08" stroke="#fff" stroke-width="0.50" stroke-opacity="0.65" stroke-linecap="round"/>
<line x1="1614.6" y1="256.45" x2="1630.2" y2="256.47" stroke="#fff" stroke-width="0.92" stroke-opacity="0.68" stroke-linecap="round"/>
<line x1="1982.2" y1="255.33" x2="2002.9" y2="255.35" stroke="#fff" stroke-width="0.56" stroke-opacity="0.74" stroke-linecap="round"/>
<line x1="1608.1" y1="254.11" x2="1633.5" y2="254.12" stroke="#fff" stroke-width="0.52" stroke-opacity="0.37" stroke-linecap="round"/>
<line x1="1715.3" y1="255.15" x2="1740.9" y2="255.17" stroke="#fff" stroke-width="0.96" stroke-opacity="0.42" stroke-linecap="round"/>
<line x1="1920.4" y1="256.50" x2="1983.4" y2="256.55" stroke="#fff" stroke-width="0.79" stroke-opacity="0.66" stroke-linecap="round"/>
<line x1="1819.3" y1="255.81" x2="1849.3" y2="255.83" stroke="#fff" stroke-width="0.62" stroke-opacity="0.51" stroke-linecap="round"/>
<line x1="1997.2" y1="255.32" x2="2002.9" y2="255.32" stroke="#fff" stroke-width="0.74" stroke-opacity="0.68" stroke-linecap="round"/>
<line x1="1756.4" y1="254.43" x2="1817.1" y2="255.21" stroke="#fff" stroke-width="0.53" stroke-opacity="0.61" stroke-linecap="round"/>
<line x1="1579.8" y1="255.28" x2="1614.5" y2="255.31" stroke="#fff" stroke-width="0.60" stroke-opacity="0.36" stroke-linecap="round"/>
<polygon points="1999.90,253.60 1999.83,263.36 1999.76,273.11 1999.69,282.87 1999.62,292.62 1999.55,302.38 1999.48,312.13 1999.41,321.88 1999.34,331.64 1999.27,341.39 1999.20,351.15 1999.13,360.90 1999.06,370.66 1998.99,380.41 1998.92,390.17 1998.85,399.92 1998.78,409.68 1998.71,419.43 1998.64,429.19 1998.57,438.94 1998.50,448.70 1998.55,458.45 1998.59,468.21 1998.64,477.96 1998.68,487.72 1998.73,497.47 1998.77,507.23 1998.82,516.98 1998.86,526.74 1998.91,536.49 1998.95,546.25 1999.00,556.00 1999.04,565.76 1999.09,575.51 1999.13,585.27 1999.18,595.02 1999.22,604.78 1999.27,614.53 1999.31,624.29 1999.36,634.04 1999.40,643.80 2006.90,643.80 2006.88,634.04 2006.86,624.29 2006.84,614.53 2006.82,604.78 2006.80,595.02 2006.78,585.27 2006.76,575.51 2006.74,565.76 2006.72,556.00 2006.70,546.25 2006.68,536.49 2006.66,526.74 2006.64,516.98 2006.62,507.23 2006.60,497.47 2006.58,487.72 2006.56,477.96 2006.54,468.21 2006.52,458.45 2006.50,448.70 2006.44,438.94 2006.38,429.19 2006.32,419.43 2006.26,409.68 2006.20,399.92 2006.14,390.17 2006.08,380.41 2006.02,370.66 2005.96,360.90 2005.90,351.15 2005.84,341.39 2005.78,331.64 2005.72,321.88 2005.66,312.13 2005.60,302.38 2005.54,292.62 2005.48,282.87 2005.42,273.11 2005.36,263.36 2005.30,253.60" fill="#6fb24f"/>
<line x1="2003.84" y1="471.9" x2="2004.00" y2="528.0" stroke="#fff" stroke-width="0.64" stroke-opacity="0.61" stroke-linecap="round"/>
<line x1="2001.78" y1="592.7" x2="2001.94" y2="633.8" stroke="#fff" stroke-width="0.83" stroke-opacity="0.60" stroke-linecap="round"/>
<line x1="2002.61" y1="446.7" x2="2002.86" y2="524.5" stroke="#fff" stroke-width="0.72" stroke-opacity="0.73" stroke-linecap="round"/>
<line x1="2001.91" y1="496.5" x2="2002.03" y2="531.1" stroke="#fff" stroke-width="0.75" stroke-opacity="0.37" stroke-linecap="round"/>
<line x1="2002.33" y1="486.0" x2="2002.55" y2="548.8" stroke="#fff" stroke-width="0.92" stroke-opacity="0.72" stroke-linecap="round"/>
<line x1="2001.04" y1="466.4" x2="2001.26" y2="525.7" stroke="#fff" stroke-width="0.53" stroke-opacity="0.74" stroke-linecap="round"/>
<line x1="2003.91" y1="364.2" x2="2003.97" y2="393.1" stroke="#fff" stroke-width="0.87" stroke-opacity="0.40" stroke-linecap="round"/>
<line x1="2001.73" y1="378.3" x2="2001.67" y2="409.0" stroke="#fff" stroke-width="0.50" stroke-opacity="0.56" stroke-linecap="round"/>
<line x1="2001.44" y1="371.7" x2="2001.34" y2="412.4" stroke="#fff" stroke-width="0.56" stroke-opacity="0.36" stroke-linecap="round"/>
<line x1="2003.19" y1="585.9" x2="2003.34" y2="633.8" stroke="#fff" stroke-width="0.56" stroke-opacity="0.41" stroke-linecap="round"/>
<line x1="2001.24" y1="302.2" x2="2001.11" y2="337.7" stroke="#fff" stroke-width="0.64" stroke-opacity="0.43" stroke-linecap="round"/>
<line x1="2002.43" y1="329.7" x2="2002.38" y2="387.2" stroke="#fff" stroke-width="0.74" stroke-opacity="0.49" stroke-linecap="round"/>
<line x1="2001.77" y1="460.1" x2="2002.01" y2="526.2" stroke="#fff" stroke-width="0.54" stroke-opacity="0.54" stroke-linecap="round"/>
<line x1="2001.09" y1="399.9" x2="2001.01" y2="465.7" stroke="#fff" stroke-width="0.94" stroke-opacity="0.36" stroke-linecap="round"/>
<polygon points="1495.00,638.80 1507.80,638.75 1520.60,638.70 1533.39,638.65 1546.19,638.60 1558.99,638.55 1571.79,638.50 1584.58,638.45 1597.38,638.41 1610.18,638.36 1622.97,638.31 1635.77,638.11 1648.57,637.90 1661.37,637.69 1674.16,637.47 1686.96,637.26 1699.76,637.05 1712.56,636.83 1725.36,636.62 1738.15,636.59 1750.95,636.57 1763.75,636.56 1776.55,636.55 1789.34,636.53 1802.14,636.52 1814.94,636.51 1827.74,636.49 1840.53,636.48 1853.33,636.46 1866.13,636.45 1878.93,636.44 1891.72,636.42 1904.52,636.41 1917.32,636.40 1930.12,636.38 1942.91,636.37 1955.71,636.35 1968.51,636.34 1981.31,636.33 1994.10,636.31 2006.90,636.30 2006.90,643.80 1994.10,643.80 1981.31,643.80 1968.51,643.80 1955.71,643.80 1942.91,643.80 1930.12,643.80 1917.32,643.80 1904.52,643.80 1891.72,643.80 1878.93,643.80 1866.13,643.80 1853.33,643.80 1840.53,643.80 1827.74,643.80 1814.94,643.80 1802.14,643.80 1789.34,643.80 1776.55,643.80 1763.75,643.80 1750.95,643.80 1738.15,643.80 1725.36,643.80 1712.56,643.80 1699.76,643.80 1686.96,643.80 1674.16,643.80 1661.37,643.80 1648.57,643.80 1635.77,643.80 1622.97,643.80 1610.18,643.80 1597.38,643.80 1584.58,643.80 1571.79,643.80 1558.99,643.80 1546.19,643.80 1533.39,643.80 1520.60,643.80 1507.80,643.80 1495.00,643.80" fill="#6fb24f"/>
<line x1="1763.4" y1="641.42" x2="1816.5" y2="641.40" stroke="#fff" stroke-width="0.95" stroke-opacity="0.70" stroke-linecap="round"/>
<line x1="1682.0" y1="640.33" x2="1758.7" y2="639.91" stroke="#fff" stroke-width="0.65" stroke-opacity="0.39" stroke-linecap="round"/>
<line x1="1754.8" y1="639.37" x2="1779.9" y2="639.35" stroke="#fff" stroke-width="0.81" stroke-opacity="0.66" stroke-linecap="round"/>
<line x1="1874.3" y1="638.51" x2="1894.9" y2="638.49" stroke="#fff" stroke-width="0.63" stroke-opacity="0.57" stroke-linecap="round"/>
<line x1="1917.0" y1="641.70" x2="1984.0" y2="641.68" stroke="#fff" stroke-width="0.79" stroke-opacity="0.60" stroke-linecap="round"/>
<line x1="1645.9" y1="640.01" x2="1681.3" y2="639.63" stroke="#fff" stroke-width="0.77" stroke-opacity="0.59" stroke-linecap="round"/>
<line x1="1785.3" y1="639.89" x2="1825.8" y2="639.87" stroke="#fff" stroke-width="0.62" stroke-opacity="0.68" stroke-linecap="round"/>
<line x1="1789.2" y1="641.30" x2="1852.9" y2="641.28" stroke="#fff" stroke-width="0.64" stroke-opacity="0.40" stroke-linecap="round"/>
<line x1="1641.4" y1="641.75" x2="1715.4" y2="641.32" stroke="#fff" stroke-width="0.70" stroke-opacity="0.66" stroke-linecap="round"/>
<line x1="1670.7" y1="639.38" x2="1742.0" y2="638.71" stroke="#fff" stroke-width="0.87" stroke-opacity="0.74" stroke-linecap="round"/>
<line x1="1709.4" y1="639.07" x2="1754.5" y2="638.85" stroke="#fff" stroke-width="0.64" stroke-opacity="0.44" stroke-linecap="round"/>
<line x1="1648.0" y1="640.26" x2="1667.5" y2="640.07" stroke="#fff" stroke-width="0.55" stroke-opacity="0.56" stroke-linecap="round"/>
<line x1="1702.7" y1="641.91" x2="1732.4" y2="641.79" stroke="#fff" stroke-width="0.65" stroke-opacity="0.56" stroke-linecap="round"/>
<line x1="1944.7" y1="641.81" x2="1996.9" y2="641.80" stroke="#fff" stroke-width="0.80" stroke-opacity="0.70" stroke-linecap="round"/>
<polygon points="479.10,822.00 478.93,831.58 478.77,841.15 478.60,850.73 478.44,860.30 478.27,869.88 478.11,879.45 477.94,889.02 477.78,898.60 477.61,908.17 477.45,917.75 477.28,927.33 477.19,936.90 477.17,946.48 477.15,956.05 477.13,965.62 477.11,975.20 477.08,984.77 477.06,994.35 477.04,1003.92 477.02,1013.50 477.00,1023.08 476.98,1032.65 476.96,1042.22 476.94,1051.80 476.92,1061.38 476.89,1070.95 476.87,1080.53 476.85,1090.10 476.83,1099.67 476.81,1109.25 476.79,1118.83 476.77,1128.40 476.75,1137.97 476.73,1147.55 476.71,1157.12 476.68,1166.70 476.66,1176.28 476.64,1185.85 476.62,1195.42 476.60,1205.00 481.60,1205.00 481.61,1195.42 481.61,1185.85 481.62,1176.28 481.63,1166.70 481.64,1157.12 481.64,1147.55 481.65,1137.97 481.66,1128.40 481.66,1118.83 481.67,1109.25 481.68,1099.67 481.68,1090.10 481.69,1080.53 481.70,1070.95 481.71,1061.38 481.71,1051.80 481.72,1042.22 481.73,1032.65 481.73,1023.08 481.74,1013.50 481.75,1003.92 481.75,994.35 481.76,984.77 481.77,975.20 481.78,965.62 481.78,956.05 481.79,946.48 481.80,936.90 481.75,927.33 481.64,917.75 481.54,908.17 481.44,898.60 481.33,889.02 481.23,879.45 481.12,869.88 481.02,860.30 480.91,850.73 480.81,841.15 480.70,831.58 480.60,822.00" fill="#6fb24f" fill-opacity="0.88"/>
<line x1="478.67" y1="967.9" x2="478.62" y2="997.9" stroke="#fff" stroke-width="0.96" stroke-opacity="0.58" stroke-linecap="round"/>
<line x1="478.99" y1="1086.3" x2="478.91" y2="1137.3" stroke="#fff" stroke-width="0.87" stroke-opacity="0.58" stroke-linecap="round"/>
<line x1="480.05" y1="1121.2" x2="479.98" y2="1179.2" stroke="#fff" stroke-width="0.72" stroke-opacity="0.41" stroke-linecap="round"/>
<line x1="479.15" y1="879.4" x2="478.72" y2="941.4" stroke="#fff" stroke-width="0.83" stroke-opacity="0.60" stroke-linecap="round"/>
<line x1="479.28" y1="844.8" x2="478.63" y2="910.8" stroke="#fff" stroke-width="0.93" stroke-opacity="0.69" stroke-linecap="round"/>
<line x1="480.03" y1="904.7" x2="479.99" y2="966.9" stroke="#fff" stroke-width="0.56" stroke-opacity="0.62" stroke-linecap="round"/>
<polygon points="486.80,815.20 488.00,815.19 489.20,815.18 490.40,815.17 491.60,815.16 492.80,815.15 494.00,815.14 495.20,815.13 496.40,815.12 497.61,815.11 498.81,815.10 500.01,815.09 501.21,815.08 502.41,815.07 503.61,815.06 504.81,815.05 506.01,815.04 507.21,815.03 508.41,815.02 509.61,815.01 510.81,815.00 512.01,814.99 513.21,814.98 514.41,814.97 515.61,814.96 516.81,814.95 518.01,814.94 519.22,814.93 520.42,814.92 521.62,814.91 522.82,814.90 524.02,814.89 525.22,814.88 526.42,814.87 527.62,814.86 528.82,814.85 530.02,814.84 531.22,814.83 532.42,814.82 533.62,814.81 534.82,814.80 534.82,818.50 533.62,818.46 532.42,818.42 531.22,818.37 530.02,818.33 528.82,818.29 527.62,818.25 526.42,818.20 525.22,818.16 524.02,818.12 522.82,818.08 521.62,818.03 520.42,817.99 519.22,817.95 518.01,817.91 516.81,817.86 515.61,817.82 514.41,817.78 513.21,817.74 512.01,817.69 510.81,817.65 509.61,817.61 508.41,817.59 507.21,817.57 506.01,817.56 504.81,817.54 503.61,817.52 502.41,817.51 501.21,817.49 500.01,817.48 498.81,817.46 497.61,817.44 496.40,817.43 495.20,817.41 494.00,817.40 492.80,817.38 491.60,817.36 490.40,817.35 489.20,817.33 488.00,817.32 486.80,817.30" fill="#6fb24f" fill-opacity="0.90"/>
<polygon points="485.80,820.00 486.26,820.00 486.72,820.00 487.18,820.00 487.65,820.00 488.11,820.00 488.57,820.00 489.03,820.00 489.49,820.00 489.95,820.00 490.42,820.00 490.88,820.00 491.34,820.00 491.80,820.00 492.26,820.00 492.72,820.00 493.19,820.00 493.65,820.00 494.11,820.00 494.57,820.00 495.03,820.00 495.49,820.00 495.96,820.00 496.42,820.00 496.88,820.00 497.34,820.00 497.80,820.00 498.26,820.00 498.73,820.00 499.19,820.00 499.65,820.00 500.11,820.00 500.57,820.00 501.03,820.00 501.50,820.00 501.96,820.00 502.42,820.00 502.88,820.00 503.34,820.00 503.80,820.00 504.26,820.00 504.26,821.30 503.80,821.30 503.34,821.30 502.88,821.30 502.42,821.30 501.96,821.30 501.50,821.30 501.03,821.30 500.57,821.30 500.11,821.30 499.65,821.30 499.19,821.30 498.73,821.30 498.26,821.30 497.80,821.30 497.34,821.30 496.88,821.30 496.42,821.30 495.96,821.30 495.49,821.30 495.03,821.30 494.57,821.30 494.11,821.30 493.65,821.30 493.19,821.30 492.72,821.30 492.26,821.30 491.80,821.30 491.34,821.30 490.88,821.30 490.42,821.30 489.95,821.30 489.49,821.30 489.03,821.30 488.57,821.30 488.11,821.30 487.65,821.30 487.18,821.30 486.72,821.30 486.26,821.30 485.80,821.30" fill="#6fb24f" fill-opacity="0.45"/>
<polygon points="524.64,816.50 536.17,815.50 547.71,814.51 559.25,814.30 570.78,814.30 582.32,814.30 593.86,814.30 605.39,814.30 616.93,814.30 628.47,814.30 640.00,814.30 651.54,814.30 663.08,814.30 674.61,814.30 686.15,814.30 697.69,814.30 709.22,814.30 720.76,814.30 732.30,814.30 743.83,814.30 755.37,814.86 766.91,815.60 778.44,815.61 789.98,815.62 801.51,815.63 813.05,815.64 824.59,815.65 836.12,815.66 847.66,815.68 859.20,815.69 870.73,815.70 882.27,815.71 893.81,815.72 905.34,815.73 916.88,815.74 928.42,815.75 939.95,815.76 951.49,815.77 963.03,815.78 974.56,815.79 986.10,815.80 986.10,820.80 974.56,820.79 963.03,820.78 951.49,820.77 939.95,820.76 928.42,820.75 916.88,820.74 905.34,820.73 893.81,820.72 882.27,820.71 870.73,820.70 859.20,820.69 847.66,820.68 836.12,820.66 824.59,820.65 813.05,820.64 801.51,820.63 789.98,820.62 778.44,820.61 766.91,820.60 755.37,820.94 743.83,821.19 732.30,821.17 720.76,821.14 709.22,821.12 697.69,821.09 686.15,821.07 674.61,821.05 663.08,821.02 651.54,821.00 640.00,820.98 628.47,820.95 616.93,820.93 605.39,820.90 593.86,820.88 582.32,820.86 570.78,820.83 559.25,820.81 547.71,820.11 536.17,819.06 524.64,818.00" fill="#6fb24f"/>
<line x1="823.9" y1="817.59" x2="840.6" y2="817.61" stroke="#fff" stroke-width="0.61" stroke-opacity="0.64" stroke-linecap="round"/>
<line x1="840.5" y1="817.14" x2="913.5" y2="817.20" stroke="#fff" stroke-width="0.71" stroke-opacity="0.36" stroke-linecap="round"/>
<line x1="637.0" y1="816.06" x2="684.9" y2="816.08" stroke="#fff" stroke-width="0.60" stroke-opacity="0.61" stroke-linecap="round"/>
<line x1="782.0" y1="818.34" x2="811.3" y2="818.37" stroke="#fff" stroke-width="0.90" stroke-opacity="0.35" stroke-linecap="round"/>
<line x1="897.8" y1="817.82" x2="958.2" y2="817.88" stroke="#fff" stroke-width="0.58" stroke-opacity="0.73" stroke-linecap="round"/>
<line x1="689.4" y1="816.32" x2="710.5" y2="816.34" stroke="#fff" stroke-width="0.92" stroke-opacity="0.59" stroke-linecap="round"/>
<line x1="898.4" y1="818.31" x2="960.9" y2="818.37" stroke="#fff" stroke-width="0.99" stroke-opacity="0.50" stroke-linecap="round"/>
<line x1="785.1" y1="818.42" x2="854.0" y2="818.48" stroke="#fff" stroke-width="0.93" stroke-opacity="0.58" stroke-linecap="round"/>
<line x1="852.9" y1="817.50" x2="870.9" y2="817.52" stroke="#fff" stroke-width="0.64" stroke-opacity="0.38" stroke-linecap="round"/>
<line x1="643.3" y1="816.90" x2="664.9" y2="816.92" stroke="#fff" stroke-width="0.82" stroke-opacity="0.50" stroke-linecap="round"/>
<line x1="704.3" y1="816.91" x2="733.0" y2="816.93" stroke="#fff" stroke-width="0.97" stroke-opacity="0.61" stroke-linecap="round"/>
<line x1="810.5" y1="818.71" x2="836.6" y2="818.74" stroke="#fff" stroke-width="0.58" stroke-opacity="0.50" stroke-linecap="round"/>
<polygon points="981.10,815.50 981.03,825.24 980.96,834.98 980.89,844.71 980.82,854.45 980.75,864.19 980.68,873.92 980.61,883.66 980.54,893.40 980.47,903.14 980.40,912.88 980.33,922.61 980.26,932.35 980.19,942.09 980.12,951.83 980.05,961.56 979.98,971.30 979.91,981.04 979.84,990.77 979.77,1000.51 979.70,1010.25 979.75,1019.99 979.79,1029.72 979.84,1039.46 979.88,1049.20 979.93,1058.94 979.97,1068.67 980.02,1078.41 980.06,1088.15 980.11,1097.89 980.15,1107.62 980.20,1117.36 980.24,1127.10 980.29,1136.84 980.33,1146.58 980.38,1156.31 980.42,1166.05 980.47,1175.79 980.51,1185.53 980.56,1195.26 980.60,1205.00 988.10,1205.00 988.08,1195.26 988.06,1185.53 988.04,1175.79 988.02,1166.05 988.00,1156.31 987.98,1146.58 987.96,1136.84 987.94,1127.10 987.92,1117.36 987.90,1107.62 987.88,1097.89 987.86,1088.15 987.84,1078.41 987.82,1068.67 987.80,1058.94 987.78,1049.20 987.76,1039.46 987.74,1029.72 987.72,1019.99 987.70,1010.25 987.64,1000.51 987.58,990.77 987.52,981.04 987.46,971.30 987.40,961.56 987.34,951.83 987.28,942.09 987.22,932.35 987.16,922.61 987.10,912.88 987.04,903.14 986.98,893.40 986.92,883.66 986.86,873.92 986.80,864.19 986.74,854.45 986.68,844.71 986.62,834.98 986.56,825.24 986.50,815.50" fill="#6fb24f"/>
<line x1="982.79" y1="833.5" x2="982.61" y2="893.8" stroke="#fff" stroke-width="0.73" stroke-opacity="0.62" stroke-linecap="round"/>
<line x1="984.05" y1="1117.1" x2="984.20" y2="1161.6" stroke="#fff" stroke-width="0.51" stroke-opacity="0.52" stroke-linecap="round"/>
<line x1="983.90" y1="959.0" x2="983.95" y2="1029.4" stroke="#fff" stroke-width="0.88" stroke-opacity="0.52" stroke-linecap="round"/>
<line x1="984.78" y1="885.2" x2="984.89" y2="955.6" stroke="#fff" stroke-width="0.69" stroke-opacity="0.39" stroke-linecap="round"/>
<line x1="984.79" y1="1011.7" x2="984.94" y2="1058.9" stroke="#fff" stroke-width="0.80" stroke-opacity="0.55" stroke-linecap="round"/>
<line x1="981.99" y1="1035.3" x2="982.15" y2="1074.8" stroke="#fff" stroke-width="0.53" stroke-opacity="0.73" stroke-linecap="round"/>
<line x1="985.61" y1="1134.5" x2="985.71" y2="1168.8" stroke="#fff" stroke-width="0.76" stroke-opacity="0.39" stroke-linecap="round"/>
<line x1="985.79" y1="1140.7" x2="985.94" y2="1193.7" stroke="#fff" stroke-width="0.84" stroke-opacity="0.39" stroke-linecap="round"/>
<line x1="985.42" y1="1053.2" x2="985.60" y2="1119.3" stroke="#fff" stroke-width="0.67" stroke-opacity="0.56" stroke-linecap="round"/>
<line x1="985.30" y1="1082.6" x2="985.38" y2="1108.5" stroke="#fff" stroke-width="0.89" stroke-opacity="0.37" stroke-linecap="round"/>
<line x1="982.56" y1="1041.4" x2="982.71" y2="1080.3" stroke="#fff" stroke-width="0.80" stroke-opacity="0.74" stroke-linecap="round"/>
<line x1="983.73" y1="1026.5" x2="983.81" y2="1048.9" stroke="#fff" stroke-width="0.89" stroke-opacity="0.73" stroke-linecap="round"/>
<line x1="985.78" y1="1087.9" x2="985.83" y2="1105.6" stroke="#fff" stroke-width="0.80" stroke-opacity="0.38" stroke-linecap="round"/>
<line x1="984.28" y1="866.8" x2="984.29" y2="887.4" stroke="#fff" stroke-width="0.58" stroke-opacity="0.67" stroke-linecap="round"/>
<polygon points="476.60,1200.00 489.39,1199.95 502.18,1199.90 514.96,1199.85 527.75,1199.80 540.54,1199.75 553.33,1199.70 566.11,1199.65 578.90,1199.61 591.69,1199.56 604.48,1199.51 617.26,1199.31 630.05,1199.10 642.84,1198.89 655.62,1198.67 668.41,1198.46 681.20,1198.25 693.99,1198.03 706.78,1197.82 719.56,1197.79 732.35,1197.77 745.14,1197.76 757.92,1197.75 770.71,1197.73 783.50,1197.72 796.29,1197.71 809.08,1197.69 821.86,1197.68 834.65,1197.66 847.44,1197.65 860.23,1197.64 873.01,1197.62 885.80,1197.61 898.59,1197.60 911.38,1197.58 924.16,1197.57 936.95,1197.55 949.74,1197.54 962.53,1197.53 975.31,1197.51 988.10,1197.50 988.10,1205.00 975.31,1205.00 962.53,1205.00 949.74,1205.00 936.95,1205.00 924.16,1205.00 911.38,1205.00 898.59,1205.00 885.80,1205.00 873.01,1205.00 860.23,1205.00 847.44,1205.00 834.65,1205.00 821.86,1205.00 809.08,1205.00 796.29,1205.00 783.50,1205.00 770.71,1205.00 757.92,1205.00 745.14,1205.00 732.35,1205.00 719.56,1205.00 706.78,1205.00 693.99,1205.00 681.20,1205.00 668.41,1205.00 655.62,1205.00 642.84,1205.00 630.05,1205.00 617.26,1205.00 604.48,1205.00 591.69,1205.00 578.90,1205.00 566.11,1205.00 553.33,1205.00 540.54,1205.00 527.75,1205.00 514.96,1205.00 502.18,1205.00 489.39,1205.00 476.60,1205.00" fill="#6fb24f"/>
<line x1="685.1" y1="1202.82" x2="735.4" y2="1202.69" stroke="#fff" stroke-width="0.59" stroke-opacity="0.44" stroke-linecap="round"/>
<line x1="497.2" y1="1201.21" x2="519.8" y2="1201.15" stroke="#fff" stroke-width="0.58" stroke-opacity="0.56" stroke-linecap="round"/>
<line x1="972.9" y1="1200.80" x2="978.1" y2="1200.80" stroke="#fff" stroke-width="0.70" stroke-opacity="0.63" stroke-linecap="round"/>
<line x1="644.3" y1="1202.98" x2="664.1" y2="1202.87" stroke="#fff" stroke-width="0.81" stroke-opacity="0.39" stroke-linecap="round"/>
<line x1="517.5" y1="1203.60" x2="538.7" y2="1203.58" stroke="#fff" stroke-width="0.55" stroke-opacity="0.60" stroke-linecap="round"/>
<line x1="963.0" y1="1200.84" x2="978.1" y2="1200.83" stroke="#fff" stroke-width="0.74" stroke-opacity="0.72" stroke-linecap="round"/>
<line x1="576.2" y1="1201.63" x2="608.0" y2="1201.54" stroke="#fff" stroke-width="0.52" stroke-opacity="0.62" stroke-linecap="round"/>
<line x1="887.3" y1="1199.60" x2="930.7" y2="1199.56" stroke="#fff" stroke-width="0.86" stroke-opacity="0.64" stroke-linecap="round"/>
<line x1="806.5" y1="1202.55" x2="842.8" y2="1202.54" stroke="#fff" stroke-width="0.82" stroke-opacity="0.59" stroke-linecap="round"/>
<line x1="750.5" y1="1201.22" x2="780.7" y2="1201.20" stroke="#fff" stroke-width="0.90" stroke-opacity="0.62" stroke-linecap="round"/>
<line x1="654.1" y1="1202.92" x2="722.4" y2="1202.62" stroke="#fff" stroke-width="0.52" stroke-opacity="0.41" stroke-linecap="round"/>
<line x1="593.3" y1="1202.97" x2="609.3" y2="1202.93" stroke="#fff" stroke-width="0.82" stroke-opacity="0.57" stroke-linecap="round"/>
<line x1="975.5" y1="1200.13" x2="978.1" y2="1200.13" stroke="#fff" stroke-width="0.56" stroke-opacity="0.49" stroke-linecap="round"/>
<line x1="897.9" y1="1199.67" x2="952.3" y2="1199.62" stroke="#fff" stroke-width="0.72" stroke-opacity="0.37" stroke-linecap="round"/>
<polygon points="1196.30,750.10 1196.13,759.69 1195.97,769.28 1195.80,778.88 1195.64,788.47 1195.47,798.06 1195.31,807.65 1195.14,817.25 1194.98,826.84 1194.81,836.43 1194.65,846.02 1194.48,855.62 1194.39,865.21 1194.37,874.80 1194.35,884.39 1194.33,893.99 1194.31,903.58 1194.28,913.17 1194.26,922.76 1194.24,932.36 1194.22,941.95 1194.20,951.54 1194.18,961.13 1194.16,970.73 1194.14,980.32 1194.12,989.91 1194.09,999.50 1194.07,1009.10 1194.05,1018.69 1194.03,1028.28 1194.01,1037.88 1193.99,1047.47 1193.97,1057.06 1193.95,1066.65 1193.93,1076.24 1193.91,1085.84 1193.88,1095.43 1193.86,1105.02 1193.84,1114.62 1193.82,1124.21 1193.80,1133.80 1198.80,1133.80 1198.81,1124.21 1198.81,1114.62 1198.82,1105.02 1198.83,1095.43 1198.84,1085.84 1198.84,1076.24 1198.85,1066.65 1198.86,1057.06 1198.86,1047.47 1198.87,1037.88 1198.88,1028.28 1198.88,1018.69 1198.89,1009.10 1198.90,999.50 1198.91,989.91 1198.91,980.32 1198.92,970.73 1198.93,961.13 1198.93,951.54 1198.94,941.95 1198.95,932.36 1198.95,922.76 1198.96,913.17 1198.97,903.58 1198.98,893.99 1198.98,884.39 1198.99,874.80 1199.00,865.21 1198.95,855.62 1198.84,846.02 1198.74,836.43 1198.64,826.84 1198.53,817.25 1198.43,807.65 1198.32,798.06 1198.22,788.47 1198.11,778.88 1198.01,769.28 1197.90,759.69 1197.80,750.10" fill="#6fb24f" fill-opacity="0.88"/>
<line x1="1196.06" y1="843.5" x2="1195.87" y2="891.2" stroke="#fff" stroke-width="0.91" stroke-opacity="0.44" stroke-linecap="round"/>
<line x1="1196.31" y1="962.0" x2="1196.19" y2="1037.2" stroke="#fff" stroke-width="0.98" stroke-opacity="0.64" stroke-linecap="round"/>
<line x1="1196.76" y1="960.4" x2="1196.68" y2="1016.3" stroke="#fff" stroke-width="0.68" stroke-opacity="0.75" stroke-linecap="round"/>
<line x1="1197.46" y1="905.1" x2="1197.36" y2="984.0" stroke="#fff" stroke-width="0.51" stroke-opacity="0.45" stroke-linecap="round"/>
<line x1="1195.83" y1="933.4" x2="1195.72" y2="1001.4" stroke="#fff" stroke-width="0.81" stroke-opacity="0.50" stroke-linecap="round"/>
<line x1="1197.06" y1="1051.6" x2="1196.96" y2="1126.8" stroke="#fff" stroke-width="0.60" stroke-opacity="0.65" stroke-linecap="round"/>
<polygon points="1204.00,743.30 1205.20,743.29 1206.40,743.28 1207.60,743.27 1208.81,743.26 1210.01,743.25 1211.21,743.24 1212.41,743.23 1213.61,743.22 1214.81,743.21 1216.01,743.20 1217.22,743.19 1218.42,743.18 1219.62,743.17 1220.82,743.16 1222.02,743.15 1223.22,743.14 1224.42,743.13 1225.63,743.12 1226.83,743.11 1228.03,743.10 1229.23,743.09 1230.43,743.08 1231.63,743.07 1232.83,743.06 1234.04,743.05 1235.24,743.04 1236.44,743.03 1237.64,743.02 1238.84,743.01 1240.04,743.00 1241.24,742.99 1242.44,742.98 1243.65,742.97 1244.85,742.96 1246.05,742.95 1247.25,742.94 1248.45,742.93 1249.65,742.92 1250.85,742.91 1252.06,742.90 1252.06,746.60 1250.85,746.56 1249.65,746.52 1248.45,746.47 1247.25,746.43 1246.05,746.39 1244.85,746.35 1243.65,746.30 1242.44,746.26 1241.24,746.22 1240.04,746.18 1238.84,746.13 1237.64,746.09 1236.44,746.05 1235.24,746.01 1234.04,745.96 1232.83,745.92 1231.63,745.88 1230.43,745.84 1229.23,745.79 1228.03,745.75 1226.83,745.71 1225.63,745.69 1224.42,745.67 1223.22,745.66 1222.02,745.64 1220.82,745.62 1219.62,745.61 1218.42,745.59 1217.22,745.58 1216.01,745.56 1214.81,745.54 1213.61,745.53 1212.41,745.51 1211.21,745.50 1210.01,745.48 1208.81,745.46 1207.60,745.45 1206.40,745.43 1205.20,745.42 1204.00,745.40" fill="#6fb24f" fill-opacity="0.90"/>
<polygon points="1203.00,748.10 1203.46,748.10 1203.92,748.10 1204.39,748.10 1204.85,748.10 1205.31,748.10 1205.77,748.10 1206.23,748.10 1206.70,748.10 1207.16,748.10 1207.62,748.10 1208.08,748.10 1208.54,748.10 1209.01,748.10 1209.47,748.10 1209.93,748.10 1210.39,748.10 1210.85,748.10 1211.32,748.10 1211.78,748.10 1212.24,748.10 1212.70,748.10 1213.16,748.10 1213.63,748.10 1214.09,748.10 1214.55,748.10 1215.01,748.10 1215.47,748.10 1215.94,748.10 1216.40,748.10 1216.86,748.10 1217.32,748.10 1217.78,748.10 1218.25,748.10 1218.71,748.10 1219.17,748.10 1219.63,748.10 1220.09,748.10 1220.56,748.10 1221.02,748.10 1221.48,748.10 1221.48,749.40 1221.02,749.40 1220.56,749.40 1220.09,749.40 1219.63,749.40 1219.17,749.40 1218.71,749.40 1218.25,749.40 1217.78,749.40 1217.32,749.40 1216.86,749.40 1216.40,749.40 1215.94,749.40 1215.47,749.40 1215.01,749.40 1214.55,749.40 1214.09,749.40 1213.63,749.40 1213.16,749.40 1212.70,749.40 1212.24,749.40 1211.78,749.40 1211.32,749.40 1210.85,749.40 1210.39,749.40 1209.93,749.40 1209.47,749.40 1209.01,749.40 1208.54,749.40 1208.08,749.40 1207.62,749.40 1207.16,749.40 1206.70,749.40 1206.23,749.40 1205.77,749.40 1205.31,749.40 1204.85,749.40 1204.39,749.40 1203.92,749.40 1203.46,749.40 1203.00,749.40" fill="#6fb24f" fill-opacity="0.45"/>
<polygon points="1241.86,744.60 1253.41,743.60 1264.95,742.61 1276.49,742.40 1288.04,742.40 1299.58,742.40 1311.12,742.40 1322.67,742.40 1334.21,742.40 1345.75,742.40 1357.30,742.40 1368.84,742.40 1380.38,742.40 1391.93,742.40 1403.47,742.40 1415.01,742.40 1426.56,742.40 1438.10,742.40 1449.65,742.40 1461.19,742.40 1472.73,742.96 1484.28,743.70 1495.82,743.71 1507.36,743.72 1518.91,743.73 1530.45,743.74 1541.99,743.75 1553.54,743.76 1565.08,743.78 1576.62,743.79 1588.17,743.80 1599.71,743.81 1611.25,743.82 1622.80,743.83 1634.34,743.84 1645.88,743.85 1657.43,743.86 1668.97,743.87 1680.51,743.88 1692.06,743.89 1703.60,743.90 1703.60,748.90 1692.06,748.89 1680.51,748.88 1668.97,748.87 1657.43,748.86 1645.88,748.85 1634.34,748.84 1622.80,748.83 1611.25,748.82 1599.71,748.81 1588.17,748.80 1576.62,748.79 1565.08,748.78 1553.54,748.76 1541.99,748.75 1530.45,748.74 1518.91,748.73 1507.36,748.72 1495.82,748.71 1484.28,748.70 1472.73,749.04 1461.19,749.29 1449.65,749.27 1438.10,749.24 1426.56,749.22 1415.01,749.19 1403.47,749.17 1391.93,749.15 1380.38,749.12 1368.84,749.10 1357.30,749.08 1345.75,749.05 1334.21,749.03 1322.67,749.00 1311.12,748.98 1299.58,748.96 1288.04,748.93 1276.49,748.91 1264.95,748.21 1253.41,747.16 1241.86,746.10" fill="#6fb24f"/>
<line x1="1692.0" y1="746.95" x2="1701.6" y2="746.96" stroke="#fff" stroke-width="0.74" stroke-opacity="0.73" stroke-linecap="round"/>
<line x1="1438.0" y1="744.65" x2="1512.7" y2="745.38" stroke="#fff" stroke-width="1.00" stroke-opacity="0.52" stroke-linecap="round"/>
<line x1="1338.6" y1="746.15" x2="1376.0" y2="746.20" stroke="#fff" stroke-width="0.52" stroke-opacity="0.50" stroke-linecap="round"/>
<line x1="1262.1" y1="744.56" x2="1281.6" y2="744.58" stroke="#fff" stroke-width="0.62" stroke-opacity="0.46" stroke-linecap="round"/>
<line x1="1603.0" y1="747.20" x2="1645.0" y2="747.24" stroke="#fff" stroke-width="0.95" stroke-opacity="0.71" stroke-linecap="round"/>
<line x1="1678.3" y1="746.81" x2="1701.6" y2="746.83" stroke="#fff" stroke-width="0.94" stroke-opacity="0.57" stroke-linecap="round"/>
<line x1="1320.4" y1="745.80" x2="1369.2" y2="745.85" stroke="#fff" stroke-width="0.59" stroke-opacity="0.39" stroke-linecap="round"/>
<line x1="1339.2" y1="746.76" x2="1399.5" y2="746.84" stroke="#fff" stroke-width="0.83" stroke-opacity="0.52" stroke-linecap="round"/>
<line x1="1269.8" y1="746.01" x2="1285.1" y2="746.17" stroke="#fff" stroke-width="0.76" stroke-opacity="0.53" stroke-linecap="round"/>
<line x1="1333.4" y1="744.65" x2="1356.4" y2="744.67" stroke="#fff" stroke-width="0.56" stroke-opacity="0.59" stroke-linecap="round"/>
<line x1="1393.6" y1="745.54" x2="1444.7" y2="745.59" stroke="#fff" stroke-width="0.77" stroke-opacity="0.65" stroke-linecap="round"/>
<line x1="1604.0" y1="747.46" x2="1628.8" y2="747.48" stroke="#fff" stroke-width="0.93" stroke-opacity="0.68" stroke-linecap="round"/>
<polygon points="1698.60,743.60 1698.53,753.36 1698.46,763.11 1698.39,772.87 1698.32,782.62 1698.25,792.38 1698.18,802.13 1698.11,811.88 1698.04,821.64 1697.97,831.39 1697.90,841.15 1697.83,850.90 1697.76,860.66 1697.69,870.41 1697.62,880.17 1697.55,889.92 1697.48,899.68 1697.41,909.43 1697.34,919.19 1697.27,928.94 1697.20,938.70 1697.25,948.45 1697.29,958.21 1697.34,967.96 1697.38,977.72 1697.43,987.47 1697.47,997.23 1697.52,1006.98 1697.56,1016.74 1697.61,1026.49 1697.65,1036.25 1697.70,1046.00 1697.74,1055.76 1697.79,1065.51 1697.83,1075.27 1697.88,1085.03 1697.92,1094.78 1697.97,1104.53 1698.01,1114.29 1698.06,1124.05 1698.10,1133.80 1705.60,1133.80 1705.58,1124.05 1705.56,1114.29 1705.54,1104.53 1705.52,1094.78 1705.50,1085.03 1705.48,1075.27 1705.46,1065.51 1705.44,1055.76 1705.42,1046.00 1705.40,1036.25 1705.38,1026.49 1705.36,1016.74 1705.34,1006.98 1705.32,997.23 1705.30,987.47 1705.28,977.72 1705.26,967.96 1705.24,958.21 1705.22,948.45 1705.20,938.70 1705.14,928.94 1705.08,919.19 1705.02,909.43 1704.96,899.68 1704.90,889.92 1704.84,880.17 1704.78,870.41 1704.72,860.66 1704.66,850.90 1704.60,841.15 1704.54,831.39 1704.48,821.64 1704.42,811.88 1704.36,802.13 1704.30,792.38 1704.24,782.62 1704.18,772.87 1704.12,763.11 1704.06,753.36 1704.00,743.60" fill="#6fb24f"/>
<line x1="1701.17" y1="979.6" x2="1701.41" y2="1052.4" stroke="#fff" stroke-width="0.86" stroke-opacity="0.72" stroke-linecap="round"/>
<line x1="1702.13" y1="943.2" x2="1702.32" y2="1005.9" stroke="#fff" stroke-width="0.93" stroke-opacity="0.36" stroke-linecap="round"/>
<line x1="1702.04" y1="810.9" x2="1702.13" y2="890.7" stroke="#fff" stroke-width="0.63" stroke-opacity="0.65" stroke-linecap="round"/>
<line x1="1701.08" y1="810.9" x2="1701.04" y2="849.3" stroke="#fff" stroke-width="0.61" stroke-opacity="0.41" stroke-linecap="round"/>
<line x1="1700.47" y1="938.3" x2="1700.68" y2="995.3" stroke="#fff" stroke-width="0.83" stroke-opacity="0.74" stroke-linecap="round"/>
<line x1="1700.12" y1="767.9" x2="1700.01" y2="800.9" stroke="#fff" stroke-width="0.84" stroke-opacity="0.52" stroke-linecap="round"/>
<line x1="1702.27" y1="912.6" x2="1702.32" y2="943.7" stroke="#fff" stroke-width="0.88" stroke-opacity="0.53" stroke-linecap="round"/>
<line x1="1701.00" y1="1057.9" x2="1701.10" y2="1087.9" stroke="#fff" stroke-width="0.98" stroke-opacity="0.44" stroke-linecap="round"/>
<line x1="1701.80" y1="801.4" x2="1701.81" y2="818.4" stroke="#fff" stroke-width="0.91" stroke-opacity="0.37" stroke-linecap="round"/>
<line x1="1700.53" y1="927.2" x2="1700.62" y2="968.0" stroke="#fff" stroke-width="0.62" stroke-opacity="0.50" stroke-linecap="round"/>
<line x1="1700.34" y1="800.3" x2="1700.16" y2="875.2" stroke="#fff" stroke-width="0.77" stroke-opacity="0.61" stroke-linecap="round"/>
<line x1="1701.48" y1="994.8" x2="1701.63" y2="1040.6" stroke="#fff" stroke-width="0.97" stroke-opacity="0.42" stroke-linecap="round"/>
<line x1="1702.03" y1="822.7" x2="1702.07" y2="857.3" stroke="#fff" stroke-width="0.71" stroke-opacity="0.51" stroke-linecap="round"/>
<line x1="1701.73" y1="776.3" x2="1701.74" y2="799.5" stroke="#fff" stroke-width="0.61" stroke-opacity="0.53" stroke-linecap="round"/>
<polygon points="1193.80,1128.80 1206.60,1128.75 1219.39,1128.70 1232.18,1128.65 1244.98,1128.60 1257.77,1128.55 1270.57,1128.50 1283.37,1128.45 1296.16,1128.41 1308.95,1128.36 1321.75,1128.31 1334.54,1128.11 1347.34,1127.90 1360.13,1127.69 1372.93,1127.47 1385.72,1127.26 1398.52,1127.05 1411.31,1126.83 1424.11,1126.62 1436.90,1126.59 1449.70,1126.57 1462.49,1126.56 1475.29,1126.55 1488.09,1126.53 1500.88,1126.52 1513.67,1126.51 1526.47,1126.49 1539.26,1126.48 1552.06,1126.46 1564.86,1126.45 1577.65,1126.44 1590.44,1126.42 1603.24,1126.41 1616.03,1126.40 1628.83,1126.38 1641.62,1126.37 1654.42,1126.35 1667.21,1126.34 1680.01,1126.33 1692.80,1126.31 1705.60,1126.30 1705.60,1133.80 1692.80,1133.80 1680.01,1133.80 1667.21,1133.80 1654.42,1133.80 1641.62,1133.80 1628.83,1133.80 1616.03,1133.80 1603.24,1133.80 1590.44,1133.80 1577.65,1133.80 1564.86,1133.80 1552.06,1133.80 1539.26,1133.80 1526.47,1133.80 1513.67,1133.80 1500.88,1133.80 1488.09,1133.80 1475.29,1133.80 1462.49,1133.80 1449.70,1133.80 1436.90,1133.80 1424.11,1133.80 1411.31,1133.80 1398.52,1133.80 1385.72,1133.80 1372.93,1133.80 1360.13,1133.80 1347.34,1133.80 1334.54,1133.80 1321.75,1133.80 1308.95,1133.80 1296.16,1133.80 1283.37,1133.80 1270.57,1133.80 1257.77,1133.80 1244.98,1133.80 1232.18,1133.80 1219.39,1133.80 1206.60,1133.80 1193.80,1133.80" fill="#6fb24f"/>
<line x1="1652.8" y1="1130.29" x2="1676.7" y2="1130.27" stroke="#fff" stroke-width="0.74" stroke-opacity="0.73" stroke-linecap="round"/>
<line x1="1388.5" y1="1130.76" x2="1432.5" y2="1130.48" stroke="#fff" stroke-width="0.69" stroke-opacity="0.71" stroke-linecap="round"/>
<line x1="1635.4" y1="1128.44" x2="1695.6" y2="1128.39" stroke="#fff" stroke-width="0.99" stroke-opacity="0.57" stroke-linecap="round"/>
<line x1="1496.2" y1="1130.22" x2="1546.5" y2="1130.19" stroke="#fff" stroke-width="0.97" stroke-opacity="0.46" stroke-linecap="round"/>
<line x1="1270.6" y1="1130.52" x2="1350.6" y2="1130.11" stroke="#fff" stroke-width="0.64" stroke-opacity="0.53" stroke-linecap="round"/>
<line x1="1644.9" y1="1128.27" x2="1684.3" y2="1128.24" stroke="#fff" stroke-width="0.63" stroke-opacity="0.44" stroke-linecap="round"/>
<line x1="1210.2" y1="1131.86" x2="1283.2" y2="1131.75" stroke="#fff" stroke-width="0.57" stroke-opacity="0.45" stroke-linecap="round"/>
<line x1="1686.0" y1="1129.86" x2="1695.6" y2="1129.86" stroke="#fff" stroke-width="0.79" stroke-opacity="0.74" stroke-linecap="round"/>
<line x1="1318.5" y1="1129.73" x2="1374.6" y2="1129.09" stroke="#fff" stroke-width="0.74" stroke-opacity="0.44" stroke-linecap="round"/>
<line x1="1368.5" y1="1130.45" x2="1409.1" y2="1130.08" stroke="#fff" stroke-width="0.95" stroke-opacity="0.50" stroke-linecap="round"/>
<line x1="1209.4" y1="1132.34" x2="1278.8" y2="1132.26" stroke="#fff" stroke-width="0.92" stroke-opacity="0.47" stroke-linecap="round"/>
<line x1="1375.8" y1="1129.28" x2="1440.6" y2="1128.68" stroke="#fff" stroke-width="0.53" stroke-opacity="0.55" stroke-linecap="round"/>
<line x1="1313.9" y1="1130.14" x2="1359.0" y2="1129.72" stroke="#fff" stroke-width="0.98" stroke-opacity="0.55" stroke-linecap="round"/>
<line x1="1371.6" y1="1129.94" x2="1406.4" y2="1129.58" stroke="#fff" stroke-width="0.89" stroke-opacity="0.67" stroke-linecap="round"/>
<polygon points="641.65,644.78 642.73,645.79 643.80,646.81 644.86,647.84 645.91,648.88 646.96,649.93 647.99,650.99 649.02,652.05 650.03,653.13 651.04,654.21 652.04,655.30 653.02,656.40 654.00,657.51 654.97,658.63 655.93,659.76 656.88,660.89 657.82,662.03 658.74,663.19 659.65,664.36 660.55,665.53 661.43,666.71 662.31,667.90 663.18,669.10 664.04,670.30 664.88,671.51 665.72,672.73 666.54,673.96 667.36,675.19 668.16,676.43 668.95,677.68 669.73,678.93 670.50,680.19 671.26,681.46 672.01,682.74 672.75,684.02 673.47,685.30 674.19,686.60 674.89,687.90 675.58,689.20 676.26,690.52 676.93,691.83 677.58,693.16 678.23,694.49 678.86,695.82 679.48,697.16 680.08,698.51 680.65,699.87 681.22,701.24 681.77,702.61 682.31,703.98 682.84,705.36 683.36,706.74 683.86,708.13 684.35,709.52 684.83,710.92 685.30,712.32 685.75,713.72 686.19,715.13 686.62,716.54 687.04,717.96 687.44,719.38 687.83,720.80 688.21,722.22 688.57,723.65 688.93,725.09 689.27,726.52 689.59,727.96 689.91,729.40 690.21,730.85 690.50,732.29 690.77,733.74 691.03,735.19 691.28,736.65 691.52,738.10 691.73,739.56 691.94,741.03 692.13,742.49 692.30,743.95 692.47,745.42 692.62,746.89 692.76,748.36 692.88,749.83 692.99,751.30 693.09,752.77 693.17,754.24 693.25,755.72 693.30,757.19 693.35,758.67 693.38,760.14 693.40,761.62 693.39,763.09 693.36,764.57 693.32,766.04 693.27,767.52 693.20,768.99 693.12,770.47 693.03,771.94 692.92,773.41 692.80,774.88 692.67,776.35 692.53,777.82 692.37,779.29 692.20,780.75 692.01,782.22 691.81,783.68 691.60,785.14 691.38,786.60 691.14,788.06 690.89,789.51 690.63,790.97 690.35,792.42 690.06,793.86 689.76,795.31 689.45,796.75 689.12,798.19 688.78,799.63 688.43,801.06 688.06,802.49 687.68,803.92 687.29,805.35 686.88,806.77 686.47,808.19 686.04,809.60 685.59,811.01 685.14,812.42 684.67,813.82 684.19,815.22 683.70,816.61 683.19,818.00 682.67,819.39 682.14,820.77 681.60,822.15 681.05,823.52 680.48,824.89 679.90,826.25 679.31,827.61 678.71,828.96 678.09,830.31 677.46,831.65 676.82,832.99 676.17,834.32 675.51,835.65 674.83,836.97 674.15,838.29 673.45,839.60 672.74,840.90 672.02,842.20 671.28,843.49 670.54,844.77 669.78,846.05 669.01,847.32 668.24,848.59 667.44,849.85 666.64,851.10 665.83,852.34 665.01,853.58 664.17,854.81 663.33,856.04 662.47,857.26 661.60,858.47 660.72,859.67 659.83,860.87 658.94,862.05 658.03,863.23 657.10,864.41 656.17,865.57 655.23,866.73 654.28,867.88 653.32,869.02 652.35,870.15 651.36,871.28 650.37,872.39 649.37,873.50 648.36,874.60 647.34,875.69 646.31,876.78 645.26,877.85 644.21,878.92 643.15,879.97 642.09,881.02 641.01,882.06 639.93,883.10 638.84,884.13 637.75,885.16 636.65,886.17 635.53,887.18 634.41,888.17 633.28,889.16 632.14,890.14 630.99,891.10 629.83,892.06 628.67,893.01 627.49,893.95 626.31,894.88 625.12,895.80 623.92,896.71 622.71,897.61 621.50,898.50 620.27,899.38 619.04,900.25 617.80,901.10 616.55,901.95 615.30,902.79 614.04,903.62 612.77,904.44 611.49,905.24 610.21,906.04 608.91,906.83 607.62,907.60 606.31,908.36 605.00,909.12 603.68,909.86 602.35,910.59 601.02,911.31 599.68,912.02 598.34,912.72 596.99,913.41 595.63,914.08 594.27,914.75 592.90,915.40 591.52,916.04 590.14,916.67 588.76,917.29 587.36,917.90 585.97,918.49 584.56,919.08 583.15,919.65 581.74,920.21 580.32,920.76 578.90,921.30 577.47,921.82 576.04,922.34 574.60,922.84 573.16,923.33 571.71,923.81 570.26,924.27 568.81,924.73 567.35,925.17 565.89,925.60 564.42,926.01 562.95,926.42 561.48,926.81 560.00,927.19 558.52,927.56 557.03,927.92 555.55,928.26 554.06,928.59 552.56,928.91 551.07,929.22 549.57,929.51 548.07,929.79 546.56,930.06 545.05,930.32 543.55,930.56 542.03,930.79 540.52,931.01 539.01,931.22 537.49,931.41 535.97,931.60 534.45,931.76 532.93,931.92 531.40,932.06 529.88,932.19 528.35,932.31 526.83,932.42 525.30,932.51 523.77,932.59 522.24,932.66 520.71,932.71 519.18,932.75 517.65,932.78 516.12,932.80 514.59,932.80 513.05,932.79 511.52,932.77 509.99,932.74 508.46,932.69 506.93,932.63 505.40,932.56 503.87,932.47 502.34,932.37 500.81,932.26 499.29,932.14 497.76,932.00 496.24,931.86 494.71,931.69 493.19,931.52 491.67,931.33 490.15,931.13 488.64,930.92 487.12,930.70 485.61,930.46 484.10,930.19 482.59,929.91 481.09,929.61 479.59,929.30 478.10,928.98 476.60,928.64 475.11,928.30 473.63,927.94 472.14,927.57 470.66,927.18 469.19,926.79 467.72,926.38 466.25,925.96 464.78,925.52 463.32,925.08 461.86,924.62 460.41,924.15 458.96,923.67 457.52,923.18 456.08,922.67 454.65,922.16 453.22,921.63 451.79,921.09 450.37,920.53 448.96,919.97 447.55,919.39 446.14,918.81 444.74,918.21 443.35,917.60 441.96,916.97 440.58,916.34 439.20,915.70 437.83,915.04 436.47,914.37 435.11,913.69 433.76,913.00 432.41,912.30 431.07,911.59 429.74,910.86 428.41,910.13 427.09,909.38 425.78,908.63 424.47,907.86 423.17,907.08 421.88,906.29 420.60,905.49 419.32,904.68 418.05,903.86 416.79,903.03 415.53,902.19 414.28,901.34 413.04,900.47 411.81,899.60 410.59,898.72 409.37,897.83 408.16,896.92 406.96,896.01 405.77,895.09 404.59,894.16 403.42,893.21 402.25,892.26 401.09,891.30 399.94,890.33 398.80,889.35 397.67,888.36 396.55,887.36 395.44,886.35 394.33,885.33 393.24,884.31 392.15,883.27 391.08,882.23 390.00,881.18 388.93,880.13 387.88,879.07 386.83,878.00 385.79,876.92 384.76,875.84 383.74,874.74 382.73,873.64 381.73,872.53 380.74,871.41 379.76,870.28 378.79,869.14 377.83,868.00 376.88,866.84 375.94,865.68 375.01,864.51 374.10,863.34 373.19,862.15 372.29,860.96 371.41,859.76 370.53,858.56 369.67,857.34 368.81,856.12 367.97,854.90 367.14,853.66 366.32,852.42 365.51,851.17 364.71,849.92 363.92,848.65 363.14,847.39 362.38,846.11 361.63,844.83 360.89,843.54 360.16,842.25 359.44,840.95 358.73,839.64 358.04,838.33 357.35,837.02 356.68,835.69 356.02,834.36 355.37,833.03 354.74,831.69 354.11,830.35 353.50,829.00 352.90,827.64 352.31,826.28 351.74,824.92 351.18,823.55 350.63,822.18 350.09,820.80 349.56,819.41 349.05,818.03 348.55,816.63 348.06,815.24 347.58,813.84 347.12,812.44 346.67,811.03 346.23,809.62 345.80,808.20 345.39,806.78 344.99,805.36 344.60,803.94 344.22,802.51 343.86,801.08 343.51,799.64 343.18,798.20 342.85,796.76 342.54,795.32 342.24,793.88 341.96,792.43 341.69,790.98 341.43,789.53 341.18,788.07 340.95,786.61 340.73,785.16 340.52,783.70 340.33,782.23 340.15,780.77 339.98,779.30 339.83,777.84 339.69,776.37 339.56,774.90 339.44,773.43 339.34,771.96 339.25,770.49 339.18,769.02 339.12,767.54 339.07,766.07 339.03,764.60 339.01,763.12 339.00,761.65 339.02,760.18 339.05,758.70 339.09,757.23 339.15,755.76 339.22,754.28 339.30,752.81 339.40,751.34 339.51,749.87 339.63,748.40 339.76,746.94 339.91,745.47 340.08,744.01 340.25,742.54 340.44,741.08 340.64,739.62 340.85,738.16 341.08,736.71 341.32,735.25 341.58,733.80 341.84,732.35 342.12,730.90 342.41,729.46 342.72,728.02 343.04,726.58 343.37,725.14 343.71,723.71 344.07,722.28 344.44,720.85 344.82,719.43 345.21,718.00 345.62,716.59 346.04,715.17 346.47,713.76 346.92,712.36 347.38,710.95 347.85,709.56 348.33,708.16 348.83,706.77 349.33,705.38 349.85,704.00 350.39,702.63 350.93,701.25 351.49,699.88 352.06,698.52 352.64,697.16 353.23,695.81 353.84,694.46 354.46,693.12 355.08,691.78 355.73,690.45 356.38,689.12 357.04,687.80 357.72,686.48 358.41,685.18 359.11,683.87 359.82,682.57 360.54,681.28 361.28,680.00 362.03,678.72 362.78,677.44 363.55,676.18 364.33,674.92 365.12,673.66 365.93,672.42 366.74,671.18 367.56,669.94 368.40,668.72 369.25,667.50 370.10,666.29 370.97,665.08 371.85,663.89 372.74,662.70 373.64,661.51 374.55,660.34 375.47,659.17 376.40,658.01 377.34,656.86 378.29,655.72 379.26,654.58 380.23,653.46 381.21,652.34 382.20,651.23 383.20,650.13 384.21,649.03 385.24,647.95 386.27,646.87 387.31,645.80 388.36,644.74 389.41,643.69 390.48,642.65 391.56,641.62 392.64,640.59 393.73,639.56 394.82,638.55 395.93,637.54 397.04,636.55 398.16,635.56 399.29,634.58 400.43,633.61 401.58,632.66 402.74,631.71 403.91,630.77 405.08,629.84 406.26,628.92 407.45,628.01 408.65,627.11 409.86,626.22 411.08,625.34 412.30,624.47 413.53,623.61 414.77,622.76 416.01,621.92 417.27,621.09 418.53,620.27 419.79,619.46 421.07,618.67 422.35,617.88 423.64,617.10 424.94,616.34 426.24,615.58 427.55,614.84 428.86,614.11 430.19,613.39 431.52,612.68 432.85,611.98 434.19,611.29 435.54,610.61 436.89,609.94 438.25,609.29 439.62,608.65 440.99,608.01 442.37,607.39 443.75,606.78 445.14,606.19 446.53,605.60 447.93,605.02 449.33,604.46 450.74,603.91 452.15,603.37 453.57,602.84 454.99,602.33 456.42,601.82 457.85,601.33 459.29,600.85 460.73,600.38 462.17,599.93 463.62,599.48 465.07,599.05 466.53,598.63 467.99,598.22 469.45,597.83 470.92,597.44 472.39,597.07 473.87,596.71 475.34,596.36 476.82,596.03 478.31,595.71 479.79,595.40 481.28,595.10 482.77,594.81 484.27,594.54 485.76,594.28 487.26,594.03 488.76,593.80 490.26,593.57 491.77,593.36 493.27,593.16 494.78,592.98 496.29,592.80 497.80,592.64 499.32,592.50 500.83,592.36 502.34,592.24 503.86,592.13 505.38,592.03 506.90,591.95 508.41,591.87 509.93,591.81 511.45,591.77 512.97,591.73 514.49,591.71 516.01,591.70 517.54,591.73 519.05,591.77 520.57,591.82 522.09,591.89 523.61,591.96 525.13,592.06 526.64,592.16 528.16,592.28 529.67,592.40 531.18,592.54 532.69,592.70 534.20,592.87 535.71,593.04 537.22,593.24 538.72,593.44 540.22,593.66 541.72,593.88 543.22,594.13 544.71,594.38 546.20,594.65 547.69,594.92 549.18,595.21 550.67,595.52 552.15,595.83 553.62,596.16 555.10,596.50 556.57,596.85 558.04,597.22 559.50,597.59 560.97,597.98 562.42,598.38 563.88,598.79 565.33,599.22 566.77,599.66 568.21,600.10 569.65,600.56 571.08,601.04 572.51,601.52 573.94,602.02 575.36,602.52 576.77,603.04 578.18,603.58 579.58,604.12 580.98,604.68 582.38,605.25 583.76,605.83 585.15,606.42 586.53,607.02 587.90,607.64 589.26,608.26 590.62,608.90 591.98,609.54 593.33,610.20 594.67,610.87 596.00,611.55 597.33,612.25 598.66,612.95 599.97,613.66 601.28,614.39 602.59,615.12 603.88,615.87 605.17,616.62 606.46,617.39 607.73,618.17 609.00,618.96 610.26,619.76 611.52,620.57 612.76,621.38 614.00,622.21 615.23,623.05 616.45,623.90 617.67,624.76 618.88,625.63 620.08,626.51 621.27,627.40 622.45,628.30 623.63,629.21 624.80,630.13 625.95,631.06 627.10,631.99 628.24,632.94 629.38,633.90 630.50,634.86 631.62,635.84 632.72,636.82 632.07,637.58 630.94,636.63 629.80,635.70 628.65,634.78 627.49,633.87 626.33,632.97 625.16,632.08 623.98,631.20 622.79,630.32 621.59,629.46 620.39,628.61 619.18,627.77 617.96,626.94 616.74,626.12 615.51,625.31 614.27,624.50 613.02,623.71 611.77,622.94 610.51,622.17 609.24,621.41 607.97,620.66 606.69,619.92 605.41,619.20 604.11,618.48 602.82,617.78 601.51,617.08 600.20,616.40 598.89,615.73 597.56,615.07 596.24,614.42 594.90,613.78 593.56,613.15 592.22,612.54 590.87,611.93 589.52,611.34 588.16,610.76 586.79,610.19 585.42,609.63 584.05,609.08 582.67,608.54 581.29,608.02 579.90,607.51 578.51,607.00 577.11,606.52 575.71,606.04 574.30,605.57 572.90,605.11 571.48,604.67 570.07,604.23 568.65,603.81 567.23,603.40 565.80,603.01 564.37,602.62 562.94,602.25 561.50,601.88 560.06,601.53 558.62,601.20 557.17,600.87 555.73,600.56 554.28,600.26 552.82,599.97 551.37,599.69 549.91,599.42 548.45,599.17 546.99,598.93 545.53,598.70 544.06,598.48 542.59,598.28 541.12,598.09 539.65,597.91 538.18,597.74 536.71,597.59 535.24,597.44 533.76,597.31 532.28,597.19 530.81,597.09 529.33,596.99 527.85,596.91 526.37,596.84 524.89,596.79 523.41,596.74 521.93,596.71 520.46,596.69 518.98,596.68 517.50,596.68 516.02,596.70 514.54,596.70 513.06,596.72 511.58,596.75 510.10,596.79 508.62,596.85 507.15,596.91 505.67,596.99 504.19,597.08 502.72,597.18 501.24,597.30 499.77,597.43 498.30,597.57 496.83,597.72 495.36,597.88 493.89,598.06 492.42,598.25 490.96,598.45 489.50,598.66 488.04,598.89 486.58,599.12 485.12,599.37 483.67,599.63 482.21,599.91 480.76,600.19 479.32,600.49 477.87,600.80 476.43,601.12 474.99,601.45 473.56,601.80 472.13,602.16 470.70,602.53 469.27,602.91 467.85,603.30 466.43,603.71 465.02,604.12 463.61,604.55 462.20,604.99 460.80,605.44 459.40,605.91 458.00,606.38 456.61,606.87 455.23,607.37 453.84,607.88 452.47,608.40 451.09,608.93 449.73,609.47 448.36,610.03 447.01,610.59 445.65,611.17 444.31,611.76 442.96,612.36 441.63,612.97 440.30,613.60 438.97,614.23 437.65,614.87 436.34,615.53 435.03,616.19 433.73,616.87 432.43,617.56 431.14,618.26 429.86,618.97 428.58,619.69 427.31,620.42 426.05,621.16 424.79,621.91 423.54,622.67 422.30,623.45 421.06,624.23 419.83,625.02 418.61,625.82 417.40,626.64 416.19,627.46 414.99,628.29 413.80,629.14 412.61,629.99 411.43,630.85 410.26,631.73 409.10,632.61 407.95,633.50 406.80,634.40 405.66,635.31 404.54,636.23 403.41,637.16 402.30,638.10 401.20,639.05 400.10,640.01 399.01,640.98 397.94,641.95 396.87,642.94 395.81,643.93 394.75,644.93 393.72,645.95 392.70,646.98 391.68,648.02 390.68,649.06 389.68,650.12 388.69,651.18 387.72,652.25 386.75,653.33 385.79,654.41 384.84,655.51 383.91,656.61 382.98,657.72 382.06,658.83 381.15,659.96 380.25,661.09 379.37,662.23 378.49,663.37 377.62,664.53 376.77,665.69 375.92,666.86 375.09,668.03 374.26,669.21 373.45,670.40 372.65,671.59 371.85,672.79 371.07,674.00 370.30,675.21 369.54,676.43 368.79,677.66 368.06,678.89 367.33,680.13 366.62,681.37 365.91,682.62 365.22,683.88 364.54,685.14 363.87,686.41 363.21,687.68 362.56,688.96 361.93,690.24 361.30,691.53 360.69,692.82 360.09,694.12 359.50,695.42 358.92,696.73 358.36,698.04 357.80,699.36 357.26,700.68 356.73,702.00 356.22,703.33 355.71,704.66 355.22,706.00 354.73,707.34 354.26,708.69 353.81,710.04 353.36,711.39 352.93,712.75 352.51,714.11 352.10,715.47 351.70,716.84 351.32,718.21 350.94,719.58 350.58,720.95 350.24,722.33 349.90,723.71 349.58,725.10 349.27,726.48 348.97,727.87 348.69,729.26 348.41,730.65 348.15,732.05 347.91,733.45 347.67,734.85 347.45,736.25 347.24,737.65 347.04,739.05 346.85,740.46 346.68,741.87 346.52,743.27 346.38,744.68 346.24,746.09 346.12,747.50 346.01,748.92 345.91,750.33 345.83,751.74 345.76,753.16 345.70,754.57 345.66,755.99 345.62,757.40 345.60,758.82 345.60,760.23 345.60,761.65 345.60,763.06 345.62,764.48 345.65,765.89 345.69,767.31 345.75,768.72 345.82,770.13 345.90,771.55 345.99,772.96 346.10,774.37 346.22,775.78 346.35,777.19 346.49,778.60 346.65,780.01 346.82,781.41 347.00,782.82 347.19,784.22 347.40,785.62 347.62,787.02 347.85,788.42 348.09,789.82 348.35,791.21 348.62,792.60 348.90,793.99 349.20,795.38 349.50,796.76 349.82,798.14 350.15,799.52 350.50,800.90 350.85,802.27 351.22,803.64 351.60,805.01 352.00,806.38 352.40,807.74 352.82,809.10 353.25,810.45 353.69,811.80 354.14,813.15 354.61,814.49 355.09,815.83 355.58,817.17 356.08,818.50 356.59,819.82 357.12,821.15 357.66,822.46 358.21,823.78 358.77,825.09 359.34,826.39 359.92,827.69 360.52,828.99 361.13,830.28 361.75,831.56 362.38,832.84 363.02,834.12 363.67,835.39 364.34,836.65 365.02,837.91 365.70,839.16 366.40,840.41 367.11,841.65 367.83,842.88 368.57,844.11 369.31,845.34 370.06,846.55 370.83,847.76 371.60,848.97 372.39,850.17 373.19,851.36 374.00,852.54 374.81,853.72 375.64,854.89 376.48,856.05 377.33,857.21 378.19,858.36 379.06,859.51 379.95,860.64 380.84,861.77 381.74,862.89 382.65,864.00 383.57,865.11 384.50,866.21 385.44,867.30 386.39,868.38 387.35,869.46 388.32,870.52 389.30,871.58 390.29,872.63 391.29,873.67 392.30,874.71 393.32,875.73 394.34,876.75 395.38,877.76 396.43,878.75 397.50,879.73 398.57,880.70 399.65,881.66 400.74,882.62 401.84,883.56 402.94,884.49 404.06,885.42 405.18,886.34 406.31,887.24 407.45,888.14 408.60,889.03 409.75,889.91 410.91,890.78 412.08,891.63 413.26,892.48 414.45,893.32 415.64,894.15 416.84,894.97 418.04,895.78 419.26,896.58 420.48,897.37 421.71,898.15 422.94,898.92 424.18,899.67 425.43,900.42 426.69,901.16 427.95,901.88 429.22,902.60 430.49,903.31 431.77,904.00 433.06,904.69 434.35,905.36 435.65,906.02 436.95,906.67 438.26,907.31 439.58,907.94 440.90,908.56 442.23,909.17 443.56,909.77 444.90,910.35 446.24,910.93 447.59,911.49 448.94,912.04 450.30,912.58 451.66,913.11 453.02,913.63 454.39,914.14 455.77,914.63 457.15,915.12 458.53,915.59 459.92,916.05 461.31,916.50 462.71,916.94 464.11,917.36 465.51,917.78 466.92,918.18 468.33,918.57 469.74,918.95 471.16,919.31 472.58,919.67 474.00,920.01 475.43,920.34 476.86,920.66 478.29,920.97 479.72,921.27 481.16,921.55 482.60,921.82 484.04,922.08 485.49,922.33 486.93,922.57 488.37,922.82 489.82,923.05 491.27,923.28 492.72,923.49 494.17,923.68 495.63,923.87 497.08,924.04 498.54,924.21 500.00,924.36 501.46,924.49 502.92,924.62 504.39,924.73 505.85,924.83 507.31,924.92 508.78,925.00 510.25,925.06 511.71,925.12 513.18,925.16 514.65,925.18 516.12,925.20 517.58,925.20 519.05,925.20 520.52,925.17 521.99,925.14 523.46,925.10 524.93,925.04 526.39,924.97 527.86,924.89 529.32,924.79 530.79,924.69 532.25,924.57 533.72,924.44 535.18,924.30 536.64,924.14 538.10,923.97 539.55,923.80 541.01,923.60 542.46,923.40 543.92,923.19 545.37,922.96 546.82,922.72 548.26,922.47 549.71,922.20 551.15,921.93 552.59,921.64 554.02,921.34 555.46,921.03 556.89,920.71 558.32,920.37 559.74,920.02 561.17,919.66 562.59,919.29 564.00,918.91 565.41,918.52 566.82,918.11 568.23,917.69 569.63,917.26 571.03,916.82 572.42,916.37 573.81,915.90 575.20,915.43 576.58,914.94 577.95,914.44 579.33,913.93 580.69,913.41 582.06,912.87 583.42,912.33 584.77,911.77 586.12,911.21 587.46,910.63 588.80,910.04 590.13,909.44 591.46,908.83 592.78,908.20 594.10,907.57 595.41,906.93 596.72,906.27 598.01,905.60 599.31,904.93 600.59,904.24 601.88,903.54 603.15,902.83 604.42,902.11 605.68,901.38 606.94,900.64 608.19,899.89 609.43,899.12 610.66,898.35 611.89,897.57 613.11,896.78 614.33,895.97 615.53,895.16 616.73,894.34 617.93,893.51 619.11,892.66 620.29,891.81 621.46,890.95 622.62,890.08 623.77,889.19 624.92,888.30 626.06,887.40 627.19,886.49 628.31,885.57 629.42,884.64 630.53,883.70 631.63,882.75 632.72,881.80 633.80,880.83 634.87,879.86 635.93,878.87 636.98,877.88 638.02,876.87 639.04,875.85 640.06,874.82 641.06,873.78 642.06,872.73 643.04,871.68 644.02,870.61 644.99,869.54 645.95,868.46 646.90,867.38 647.83,866.28 648.76,865.18 649.68,864.07 650.59,862.95 651.49,861.83 652.38,860.70 653.25,859.56 654.12,858.41 654.98,857.26 655.83,856.09 656.66,854.93 657.49,853.75 658.30,852.57 659.11,851.38 659.90,850.19 660.69,848.99 661.46,847.78 662.22,846.57 662.97,845.35 663.71,844.12 664.44,842.89 665.16,841.65 665.86,840.41 666.56,839.16 667.24,837.90 667.91,836.64 668.57,835.37 669.22,834.10 669.86,832.83 670.49,831.54 671.10,830.26 671.71,828.96 672.30,827.67 672.88,826.37 673.45,825.06 674.00,823.75 674.55,822.43 675.08,821.11 675.60,819.79 676.11,818.46 676.61,817.13 677.10,815.79 677.57,814.45 678.03,813.10 678.48,811.76 678.92,810.41 679.34,809.05 679.75,807.69 680.16,806.33 680.54,804.96 680.92,803.60 681.28,802.22 681.64,800.85 681.97,799.47 682.30,798.09 682.62,796.71 682.92,795.33 683.21,793.94 683.48,792.55 683.75,791.16 684.00,789.76 684.24,788.37 684.47,786.97 684.68,785.57 684.88,784.17 685.07,782.77 685.25,781.36 685.41,779.96 685.57,778.55 685.71,777.15 685.83,775.74 685.95,774.33 686.05,772.92 686.14,771.51 686.21,770.09 686.27,768.68 686.32,767.27 686.36,765.86 686.39,764.44 686.40,763.03 686.40,761.62 686.41,760.20 686.40,758.79 686.38,757.38 686.35,755.96 686.30,754.55 686.25,753.14 686.18,751.72 686.09,750.31 686.00,748.90 685.89,747.49 685.77,746.08 685.64,744.67 685.49,743.26 685.33,741.86 685.16,740.45 684.98,739.05 684.79,737.64 684.59,736.24 684.37,734.84 684.15,733.44 683.91,732.04 683.65,730.65 683.39,729.25 683.11,727.86 682.82,726.47 682.52,725.09 682.21,723.70 681.88,722.32 681.54,720.94 681.19,719.56 680.82,718.19 680.45,716.82 680.06,715.45 679.66,714.08 679.25,712.72 678.82,711.36 678.38,710.01 677.93,708.66 677.47,707.31 677.00,705.96 676.51,704.62 676.01,703.29 675.50,701.95 674.98,700.62 674.45,699.30 673.93,697.97 673.39,696.64 672.84,695.32 672.27,694.01 671.70,692.69 671.11,691.39 670.51,690.08 669.90,688.79 669.28,687.49 668.65,686.20 668.00,684.92 667.34,683.64 666.67,682.37 665.99,681.10 665.30,679.84 664.60,678.58 663.88,677.33 663.16,676.08 662.42,674.84 661.67,673.61 660.91,672.38 660.14,671.16 659.36,669.94 658.56,668.73 657.76,667.53 656.94,666.33 656.12,665.14 655.28,663.95 654.44,662.77 653.59,661.59 652.73,660.42 651.86,659.26 650.98,658.10 650.09,656.95 649.18,655.80 648.27,654.67 647.35,653.54 646.41,652.42 645.47,651.30 644.51,650.20 643.55,649.10 642.57,648.00 641.59,646.92 640.59,645.85" fill="#6fb24f"/>
<polyline points="644.44,876.18 642.31,878.34 640.15,880.47 637.95,882.57 635.72,884.63 633.44,886.66 631.13,888.65 628.79,890.59 626.41,892.50 623.99,894.37 621.54,896.19 619.06,897.97 616.54,899.71 614.00,901.41 611.42,903.06 608.81,904.67 606.17,906.24 603.51,907.76 600.81,909.23 598.09,910.66 595.35,912.04 592.58,913.37 589.78,914.66 586.97,915.90 584.13,917.09" fill="none" stroke="#fff" stroke-width="1.05" stroke-opacity="0.52" stroke-linecap="round"/>
<polyline points="351.29,812.75 350.31,809.72 349.39,806.67 348.53,803.61 347.73,800.53 346.99,797.44 346.32,794.33 345.70,791.21 345.15,788.09 344.66,784.95 344.23,781.80 343.86,778.65 343.56,775.49 343.32,772.33 343.14,769.16 343.02,765.99 342.96,762.82 342.97,759.64 343.03,756.47 343.16,753.30 343.35,750.13 343.61,746.97 343.92,743.81 344.30,740.66 344.74,737.52" fill="none" stroke="#fff" stroke-width="0.66" stroke-opacity="0.43" stroke-linecap="round"/>
<polyline points="686.62,797.77 685.84,800.99 685.00,804.20 684.09,807.39 683.12,810.56 682.09,813.72 680.99,816.85 679.83,819.96 678.60,823.05 677.31,826.12 675.96,829.16 674.54,832.17 673.07,835.16 671.53,838.12 669.94,841.05 668.28,843.94 666.57,846.81 664.80,849.64 662.97,852.44 661.08,855.20 659.14,857.93 657.14,860.62 655.09,863.27 652.99,865.88 650.83,868.45" fill="none" stroke="#fff" stroke-width="0.73" stroke-opacity="0.36" stroke-linecap="round"/>
<polyline points="405.15,632.03 406.40,631.05 407.67,630.07 408.94,629.10 410.23,628.15 411.52,627.21 412.82,626.28 414.13,625.36 415.45,624.45 416.77,623.55 418.11,622.67 419.45,621.80 420.81,620.94 422.17,620.09 423.54,619.25 424.91,618.43 426.30,617.62 427.69,616.82 429.09,616.04 430.50,615.26 431.92,614.50 433.34,613.76 434.77,613.02 436.21,612.30 437.65,611.59" fill="none" stroke="#fff" stroke-width="0.53" stroke-opacity="0.62" stroke-linecap="round"/>
<polyline points="446.86,607.43 448.74,606.66 450.62,605.92 452.52,605.19 454.42,604.48 456.33,603.80 458.25,603.13 460.18,602.49 462.11,601.87 464.06,601.27 466.01,600.70 467.96,600.14 469.93,599.61 471.90,599.10 473.87,598.61 475.85,598.15 477.84,597.71 479.83,597.29 481.83,596.89 483.83,596.51 485.84,596.16 487.85,595.83 489.86,595.52 491.88,595.24 493.90,594.97" fill="none" stroke="#fff" stroke-width="0.93" stroke-opacity="0.66" stroke-linecap="round"/>
<polyline points="363.85,681.94 366.04,678.17 368.33,674.45 370.72,670.78 373.20,667.18 375.79,663.65 378.46,660.17 381.23,656.77 384.09,653.43 387.04,650.17 390.08,646.98 393.20,643.87 396.41,640.85 399.70,637.90 403.07,635.04 406.51,632.26 410.03,629.57 413.62,626.97 417.27,624.46 421.00,622.04 424.79,619.72 428.63,617.49 432.54,615.35 436.51,613.32 440.52,611.38" fill="none" stroke="#fff" stroke-width="0.94" stroke-opacity="0.55" stroke-linecap="round"/>
<polyline points="591.16,610.03 592.53,610.68 593.89,611.34 595.24,612.01 596.59,612.69 597.94,613.38 599.28,614.08 600.61,614.80 601.93,615.53 603.25,616.26 604.56,617.01 605.87,617.77 607.16,618.54 608.45,619.32 609.73,620.11 611.01,620.92 612.28,621.73 613.54,622.55 614.79,623.39 616.04,624.23 617.27,625.09 618.50,625.95 619.73,626.83 620.94,627.72 622.14,628.61" fill="none" stroke="#fff" stroke-width="0.56" stroke-opacity="0.40" stroke-linecap="round"/>
<polyline points="657.09,858.48 654.34,862.09 651.48,865.64 648.53,869.11 645.49,872.50 642.35,875.81 639.12,879.04 635.79,882.18 632.38,885.23 628.89,888.19 625.31,891.06 621.65,893.83 617.92,896.51 614.11,899.10 610.24,901.58 606.29,903.96 602.28,906.24 598.21,908.41 594.08,910.48 589.90,912.44 585.66,914.29 581.37,916.03 577.03,917.65 572.65,919.17 568.23,920.57" fill="none" stroke="#fff" stroke-width="0.97" stroke-opacity="0.65" stroke-linecap="round"/>
<polyline points="466.31,922.94 462.31,921.74 458.34,920.44 454.40,919.05 450.50,917.57 446.64,916.00 442.82,914.34 439.04,912.60 435.30,910.76 431.61,908.85 427.97,906.84 424.39,904.76 420.85,902.59 417.37,900.34 413.95,898.01 410.58,895.60 407.28,893.12 404.04,890.56 400.87,887.92 397.76,885.22 394.72,882.44 391.75,879.59 388.84,876.68 386.01,873.71 383.25,870.67" fill="none" stroke="#fff" stroke-width="0.71" stroke-opacity="0.55" stroke-linecap="round"/>
<polyline points="350.97,809.23 349.76,805.15 348.66,801.05 347.68,796.92 346.80,792.76 346.03,788.59 345.37,784.40 344.82,780.19 344.39,775.98 344.07,771.75 343.86,767.52 343.76,763.28 343.76,759.04 343.87,754.81 344.10,750.57 344.43,746.35 344.88,742.13 345.43,737.93 346.10,733.73 346.88,729.56 347.77,725.41 348.78,721.28 349.89,717.17 351.10,713.10 352.43,709.05" fill="none" stroke="#fff" stroke-width="1.01" stroke-opacity="0.70" stroke-linecap="round"/>
<polyline points="346.01,721.94 346.41,720.40 346.82,718.87 347.25,717.35 347.69,715.82 348.15,714.31 348.62,712.79 349.11,711.28 349.61,709.78 350.13,708.28 350.66,706.78 351.21,705.29 351.77,703.80 352.34,702.32 352.93,700.85 353.53,699.38 354.15,697.92 354.78,696.46 355.43,695.00 356.08,693.56 356.76,692.12 357.45,690.68 358.15,689.25 358.86,687.83 359.59,686.42" fill="none" stroke="#fff" stroke-width="1.08" stroke-opacity="0.67" stroke-linecap="round"/>
<polyline points="354.90,824.18 353.55,820.84 352.27,817.48 351.06,814.09 349.94,810.68 348.89,807.24 347.91,803.79 347.01,800.31 346.19,796.82 345.45,793.31 344.78,789.79 344.20,786.25 343.69,782.71 343.26,779.15 342.91,775.58 342.64,772.01 342.45,768.44 342.33,764.86 342.30,761.28 342.35,757.70 342.47,754.12 342.68,750.54 342.96,746.97 343.33,743.41 343.77,739.85" fill="none" stroke="#fff" stroke-width="0.88" stroke-opacity="0.70" stroke-linecap="round"/>
<polyline points="620.47,894.70 619.28,895.55 618.09,896.39 616.89,897.23 615.69,898.05 614.47,898.86 613.25,899.66 612.02,900.45 610.79,901.23 609.55,902.01 608.30,902.77 607.04,903.52 605.78,904.26 604.51,904.99 603.24,905.71 601.96,906.42 600.67,907.11 599.38,907.80 598.08,908.48 596.77,909.15 595.46,909.80 594.14,910.45 592.82,911.08 591.49,911.70 590.16,912.32" fill="none" stroke="#fff" stroke-width="1.01" stroke-opacity="0.70" stroke-linecap="round"/>
<polyline points="687.02,734.96 687.61,738.80 688.11,742.65 688.52,746.51 688.83,750.38 689.04,754.26 689.17,758.13 689.20,762.02 689.15,765.90 689.00,769.77 688.76,773.65 688.42,777.52 688.00,781.38 687.47,785.22 686.86,789.06 686.15,792.88 685.36,796.69 684.47,800.47 683.48,804.24 682.41,807.98 681.25,811.70 680.00,815.39 678.65,819.05 677.22,822.68 675.71,826.27" fill="none" stroke="#fff" stroke-width="1.04" stroke-opacity="0.36" stroke-linecap="round"/>
<polyline points="461.05,918.63 458.62,917.84 456.21,917.00 453.81,916.14 451.43,915.24 449.06,914.30 446.70,913.34 444.36,912.33 442.04,911.30 439.73,910.23 437.43,909.13 435.16,907.99 432.90,906.82 430.66,905.63 428.44,904.39 426.24,903.13 424.06,901.84 421.90,900.51 419.75,899.15 417.63,897.77 415.54,896.35 413.46,894.90 411.41,893.42 409.38,891.92 407.37,890.38" fill="none" stroke="#fff" stroke-width="0.53" stroke-opacity="0.57" stroke-linecap="round"/>
<polyline points="675.35,692.12 676.90,695.41 678.38,698.74 679.76,702.11 681.07,705.51 682.30,708.93 683.45,712.38 684.53,715.85 685.53,719.34 686.46,722.86 687.30,726.39 688.06,729.94 688.75,733.50 689.36,737.08 689.88,740.68 690.32,744.28 690.67,747.89 690.95,751.51 691.15,755.13 691.27,758.76 691.30,762.39 691.23,766.01 691.09,769.64 690.86,773.26 690.55,776.88" fill="none" stroke="#fff" stroke-width="0.83" stroke-opacity="0.67" stroke-linecap="round"/>
<polyline points="609.73,901.01 608.13,901.98 606.52,902.94 604.91,903.88 603.28,904.81 601.64,905.71 599.99,906.60 598.33,907.48 596.66,908.33 594.98,909.17 593.30,909.99 591.60,910.79 589.89,911.57 588.18,912.34 586.45,913.08 584.72,913.81 582.98,914.52 581.23,915.21 579.48,915.89 577.71,916.54 575.94,917.18 574.17,917.80 572.38,918.39 570.59,918.97 568.79,919.54" fill="none" stroke="#fff" stroke-width="0.69" stroke-opacity="0.38" stroke-linecap="round"/>
<polyline points="345.66,794.35 345.44,793.28 345.23,792.21 345.03,791.14 344.83,790.07 344.64,789.00 344.46,787.92 344.29,786.85 344.12,785.77 343.96,784.69 343.81,783.62 343.66,782.54 343.53,781.46 343.40,780.37 343.27,779.29 343.16,778.21 343.05,777.13 342.95,776.04 342.85,774.96 342.77,773.87 342.69,772.79 342.62,771.70 342.55,770.61 342.49,769.53 342.45,768.44" fill="none" stroke="#fff" stroke-width="1.08" stroke-opacity="0.45" stroke-linecap="round"/>
<polyline points="624.66,893.85 621.78,896.01 618.85,898.12 615.88,900.16 612.86,902.14 609.80,904.07 606.70,905.93 603.56,907.72 600.38,909.46 597.17,911.13 593.92,912.73 590.63,914.27 587.31,915.75 583.97,917.15 580.59,918.49 577.18,919.76 573.74,920.97 570.28,922.10 566.80,923.16 563.29,924.16 559.77,925.08 556.22,925.93 552.66,926.71 549.07,927.42 545.48,928.05" fill="none" stroke="#fff" stroke-width="0.69" stroke-opacity="0.69" stroke-linecap="round"/>
<polyline points="522.26,594.79 524.70,594.88 527.13,595.01 529.56,595.16 531.99,595.36 534.42,595.58 536.84,595.84 539.26,596.13 541.68,596.45 544.09,596.81 546.49,597.19 548.89,597.61 551.28,598.07 553.67,598.55 556.04,599.07 558.41,599.62 560.78,600.20 563.13,600.82 565.48,601.46 567.81,602.14 570.14,602.85 572.45,603.59 574.75,604.36 577.05,605.16 579.33,606.00" fill="none" stroke="#fff" stroke-width="1.02" stroke-opacity="0.49" stroke-linecap="round"/>
<polyline points="491.04,597.04 494.57,596.58 498.12,596.19 501.68,595.87 505.24,595.62 508.81,595.44 512.38,595.34 515.95,595.30 519.52,595.31 523.09,595.39 526.66,595.54 530.22,595.76 533.78,596.06 537.34,596.42 540.88,596.86 544.42,597.36 547.94,597.94 551.46,598.58 554.95,599.30 558.44,600.09 561.90,600.94 565.35,601.86 568.77,602.86 572.18,603.92 575.56,605.04" fill="none" stroke="#fff" stroke-width="0.87" stroke-opacity="0.68" stroke-linecap="round"/>
<polyline points="390.14,876.95 388.34,875.09 386.56,873.20 384.81,871.29 383.09,869.35 381.40,867.39 379.74,865.40 378.12,863.39 376.53,861.35 374.97,859.29 373.44,857.21 371.94,855.11 370.48,852.99 369.06,850.84 367.66,848.67 366.30,846.49 364.98,844.28 363.69,842.05 362.43,839.81 361.22,837.55 360.03,835.27 358.89,832.97 357.78,830.66 356.70,828.33 355.67,825.98" fill="none" stroke="#fff" stroke-width="1.06" stroke-opacity="0.50" stroke-linecap="round"/>
<polyline points="628.89,890.51 627.22,891.86 625.53,893.18 623.83,894.49 622.11,895.77 620.38,897.03 618.62,898.28 616.86,899.50 615.07,900.70 613.27,901.88 611.46,903.04 609.63,904.17 607.79,905.28 605.93,906.38 604.06,907.45 602.17,908.49 600.28,909.52 598.36,910.52 596.44,911.50 594.50,912.45 592.55,913.38 590.59,914.29 588.62,915.18 586.64,916.04 584.64,916.88" fill="none" stroke="#fff" stroke-width="0.51" stroke-opacity="0.50" stroke-linecap="round"/>
<polyline points="350.24,814.06 349.90,813.06 349.57,812.05 349.24,811.05 348.93,810.04 348.61,809.03 348.31,808.02 348.01,807.01 347.72,806.00 347.43,804.98 347.15,803.97 346.88,802.95 346.62,801.93 346.36,800.90 346.10,799.88 345.86,798.85 345.62,797.83 345.39,796.80 345.16,795.77 344.94,794.74 344.73,793.71 344.53,792.67 344.33,791.64 344.13,790.60 343.95,789.57" fill="none" stroke="#fff" stroke-width="0.85" stroke-opacity="0.40" stroke-linecap="round"/>
<polyline points="340.99,760.22 341.03,758.01 341.10,755.81 341.20,753.60 341.33,751.40 341.49,749.20 341.68,747.00 341.90,744.81 342.15,742.62 342.43,740.43 342.74,738.24 343.08,736.06 343.44,733.89 343.84,731.72 344.27,729.55 344.72,727.39 345.21,725.24 345.72,723.09 346.27,720.95 346.84,718.81 347.44,716.69 348.07,714.57 348.73,712.46 349.42,710.36 350.13,708.26" fill="none" stroke="#fff" stroke-width="0.91" stroke-opacity="0.47" stroke-linecap="round"/>
<polygon points="1507.93,420.57 1509.42,421.99 1510.90,423.42 1512.37,424.87 1513.82,426.33 1515.26,427.81 1516.69,429.29 1518.11,430.79 1519.51,432.30 1520.90,433.82 1522.27,435.36 1523.63,436.90 1524.98,438.46 1526.32,440.03 1527.64,441.60 1528.94,443.20 1530.24,444.80 1531.51,446.42 1532.76,448.05 1534.00,449.69 1535.23,451.34 1536.44,453.00 1537.63,454.68 1538.81,456.36 1539.98,458.05 1541.13,459.76 1542.27,461.47 1543.39,463.19 1544.49,464.93 1545.58,466.67 1546.66,468.42 1547.72,470.18 1548.76,471.95 1549.79,473.73 1550.80,475.51 1551.79,477.31 1552.77,479.11 1553.74,480.92 1554.69,482.75 1555.62,484.57 1556.53,486.41 1557.43,488.26 1558.31,490.11 1559.18,491.97 1560.03,493.84 1560.85,495.72 1561.65,497.61 1562.42,499.50 1563.19,501.41 1563.93,503.32 1564.66,505.23 1565.37,507.16 1566.06,509.08 1566.74,511.02 1567.40,512.96 1568.04,514.90 1568.66,516.85 1569.27,518.81 1569.86,520.77 1570.43,522.74 1570.98,524.71 1571.52,526.69 1572.04,528.67 1572.54,530.65 1573.02,532.64 1573.49,534.63 1573.93,536.63 1574.36,538.63 1574.77,540.64 1575.17,542.65 1575.54,544.66 1575.90,546.67 1576.24,548.69 1576.56,550.71 1576.85,552.74 1577.13,554.76 1577.39,556.79 1577.63,558.83 1577.86,560.86 1578.06,562.89 1578.25,564.93 1578.42,566.97 1578.57,569.01 1578.70,571.05 1578.81,573.10 1578.90,575.14 1578.98,577.19 1579.04,579.23 1579.08,581.28 1579.10,583.32 1579.09,585.37 1579.06,587.42 1579.01,589.46 1578.94,591.51 1578.85,593.55 1578.74,595.59 1578.62,597.64 1578.48,599.68 1578.32,601.72 1578.14,603.76 1577.94,605.80 1577.73,607.83 1577.50,609.87 1577.24,611.90 1576.98,613.93 1576.69,615.95 1576.38,617.98 1576.06,620.00 1575.71,622.02 1575.35,624.03 1574.97,626.05 1574.58,628.06 1574.16,630.06 1573.73,632.07 1573.28,634.07 1572.81,636.06 1572.33,638.05 1571.82,640.04 1571.30,642.02 1570.76,644.00 1570.20,645.97 1569.63,647.94 1569.03,649.91 1568.42,651.86 1567.79,653.82 1567.15,655.77 1566.49,657.71 1565.80,659.65 1565.11,661.58 1564.39,663.50 1563.66,665.42 1562.91,667.34 1562.14,669.24 1561.36,671.15 1560.56,673.04 1559.74,674.93 1558.91,676.81 1558.05,678.68 1557.19,680.55 1556.30,682.40 1555.40,684.26 1554.48,686.10 1553.55,687.94 1552.60,689.76 1551.63,691.58 1550.64,693.40 1549.64,695.20 1548.63,696.99 1547.60,698.78 1546.55,700.56 1545.48,702.33 1544.40,704.09 1543.31,705.84 1542.20,707.58 1541.07,709.31 1539.93,711.04 1538.77,712.75 1537.60,714.45 1536.41,716.15 1535.21,717.83 1533.99,719.51 1532.75,721.17 1531.51,722.82 1530.24,724.47 1528.97,726.10 1527.67,727.72 1526.37,729.33 1525.05,730.93 1523.71,732.52 1522.36,734.10 1521.00,735.66 1519.62,737.22 1518.23,738.76 1516.82,740.29 1515.40,741.81 1513.97,743.32 1512.53,744.82 1511.07,746.30 1509.59,747.77 1508.11,749.23 1506.61,750.68 1505.11,752.13 1503.60,753.57 1502.08,755.00 1500.55,756.41 1499.00,757.81 1497.44,759.20 1495.87,760.58 1494.28,761.94 1492.69,763.29 1491.08,764.62 1489.46,765.95 1487.82,767.26 1486.18,768.55 1484.52,769.84 1482.85,771.10 1481.17,772.36 1479.48,773.60 1477.78,774.83 1476.07,776.04 1474.34,777.24 1472.61,778.42 1470.86,779.59 1469.10,780.75 1467.34,781.89 1465.56,783.02 1463.77,784.13 1461.98,785.22 1460.17,786.31 1458.35,787.37 1456.53,788.43 1454.69,789.46 1452.85,790.48 1450.99,791.49 1449.13,792.48 1447.25,793.46 1445.37,794.42 1443.48,795.36 1441.59,796.29 1439.68,797.21 1437.76,798.10 1435.84,798.98 1433.91,799.85 1431.97,800.70 1430.02,801.53 1428.07,802.35 1426.11,803.15 1424.14,803.94 1422.16,804.71 1420.18,805.46 1418.19,806.20 1416.19,806.92 1414.19,807.62 1412.18,808.30 1410.17,808.97 1408.14,809.63 1406.12,810.26 1404.08,810.88 1402.05,811.49 1400.00,812.07 1397.95,812.64 1395.90,813.19 1393.84,813.73 1391.77,814.25 1389.70,814.75 1387.63,815.23 1385.55,815.70 1383.47,816.15 1381.38,816.58 1379.29,816.99 1377.20,817.39 1375.10,817.77 1373.00,818.12 1370.89,818.46 1368.78,818.78 1366.67,819.09 1364.56,819.37 1362.44,819.64 1360.32,819.89 1358.20,820.13 1356.08,820.34 1353.95,820.54 1351.82,820.72 1349.70,820.88 1347.56,821.03 1345.43,821.16 1343.30,821.27 1341.17,821.36 1339.03,821.43 1336.90,821.49 1334.76,821.53 1332.62,821.55 1330.49,821.55 1328.35,821.54 1326.21,821.51 1324.08,821.46 1321.94,821.39 1319.81,821.31 1317.67,821.20 1315.54,821.08 1313.41,820.95 1311.28,820.79 1309.15,820.62 1307.02,820.43 1304.89,820.22 1302.77,819.99 1300.64,819.75 1298.52,819.49 1296.41,819.21 1294.29,818.91 1292.18,818.59 1290.07,818.26 1287.96,817.89 1285.87,817.48 1283.77,817.06 1281.68,816.62 1279.60,816.17 1277.52,815.70 1275.44,815.21 1273.37,814.70 1271.30,814.18 1269.24,813.64 1267.18,813.08 1265.13,812.50 1263.08,811.91 1261.04,811.30 1259.01,810.68 1256.98,810.03 1254.96,809.38 1252.94,808.70 1250.93,808.01 1248.92,807.30 1246.93,806.57 1244.94,805.83 1242.95,805.07 1240.98,804.30 1239.01,803.51 1237.04,802.70 1235.09,801.88 1233.14,801.04 1231.20,800.18 1229.27,799.31 1227.35,798.42 1225.43,797.52 1223.52,796.60 1221.62,795.66 1219.73,794.71 1217.85,793.75 1215.98,792.76 1214.12,791.77 1212.26,790.76 1210.42,789.73 1208.58,788.69 1206.76,787.63 1204.94,786.55 1203.13,785.47 1201.34,784.36 1199.55,783.25 1197.78,782.11 1196.01,780.97 1194.26,779.81 1192.51,778.63 1190.78,777.44 1189.06,776.24 1187.34,775.02 1185.64,773.79 1183.95,772.54 1182.28,771.28 1180.61,770.01 1178.95,768.72 1177.31,767.42 1175.68,766.10 1174.06,764.78 1172.45,763.44 1170.86,762.08 1169.28,760.71 1167.71,759.33 1166.15,757.94 1164.60,756.53 1163.07,755.12 1161.55,753.68 1160.05,752.24 1158.55,750.79 1157.06,749.34 1155.57,747.88 1154.10,746.40 1152.64,744.92 1151.19,743.42 1149.76,741.91 1148.34,740.39 1146.94,738.86 1145.54,737.31 1144.17,735.76 1142.80,734.19 1141.45,732.61 1140.12,731.02 1138.80,729.42 1137.49,727.81 1136.20,726.19 1134.92,724.55 1133.66,722.91 1132.41,721.25 1131.18,719.59 1129.96,717.91 1128.76,716.23 1127.57,714.54 1126.39,712.83 1125.24,711.12 1124.10,709.39 1122.97,707.66 1121.86,705.92 1120.76,704.16 1119.68,702.40 1118.62,700.63 1117.57,698.85 1116.54,697.07 1115.52,695.27 1114.52,693.47 1113.54,691.65 1112.57,689.83 1111.62,688.00 1110.69,686.17 1109.77,684.32 1108.87,682.47 1107.98,680.61 1107.12,678.74 1106.27,676.87 1105.43,674.99 1104.61,673.10 1103.81,671.21 1103.03,669.31 1102.26,667.40 1101.52,665.48 1100.78,663.56 1100.07,661.64 1099.37,659.70 1098.69,657.77 1098.03,655.82 1097.38,653.87 1096.76,651.92 1096.15,649.96 1095.55,648.00 1094.98,646.03 1094.42,644.05 1093.88,642.07 1093.36,640.09 1092.86,638.10 1092.37,636.11 1091.90,634.12 1091.45,632.12 1091.02,630.11 1090.61,628.11 1090.21,626.10 1089.83,624.08 1089.47,622.07 1089.13,620.05 1088.81,618.03 1088.50,616.00 1088.21,613.97 1087.95,611.94 1087.69,609.91 1087.46,607.88 1087.25,605.84 1087.05,603.81 1086.87,601.77 1086.71,599.73 1086.57,597.68 1086.45,595.64 1086.35,593.60 1086.26,591.55 1086.19,589.51 1086.14,587.46 1086.11,585.42 1086.10,583.37 1086.12,581.32 1086.16,579.28 1086.22,577.23 1086.30,575.19 1086.39,573.14 1086.51,571.10 1086.64,569.06 1086.79,567.02 1086.96,564.98 1087.14,562.94 1087.35,560.91 1087.57,558.87 1087.81,556.84 1088.07,554.81 1088.35,552.78 1088.65,550.76 1088.96,548.74 1089.29,546.72 1089.64,544.70 1090.01,542.69 1090.40,540.68 1090.80,538.67 1091.23,536.67 1091.67,534.67 1092.13,532.68 1092.60,530.69 1093.10,528.70 1093.61,526.72 1094.14,524.74 1094.69,522.76 1095.25,520.79 1095.83,518.83 1096.43,516.87 1097.05,514.92 1097.69,512.97 1098.34,511.03 1099.01,509.09 1099.70,507.16 1100.40,505.23 1101.13,503.31 1101.86,501.40 1102.62,499.49 1103.39,497.59 1104.18,495.70 1104.99,493.81 1105.82,491.93 1106.66,490.06 1107.51,488.19 1108.39,486.33 1109.28,484.48 1110.19,482.64 1111.11,480.80 1112.05,478.97 1113.01,477.15 1113.98,475.34 1114.97,473.54 1115.98,471.74 1117.00,469.95 1118.03,468.18 1119.09,466.41 1120.16,464.65 1121.24,462.89 1122.34,461.15 1123.46,459.42 1124.59,457.70 1125.73,455.98 1126.89,454.28 1128.07,452.58 1129.26,450.90 1130.47,449.22 1131.69,447.56 1132.93,445.91 1134.18,444.26 1135.45,442.63 1136.73,441.01 1138.02,439.40 1139.33,437.80 1140.66,436.21 1141.99,434.63 1143.35,433.06 1144.71,431.50 1146.09,429.96 1147.48,428.43 1148.89,426.91 1150.31,425.40 1151.75,423.90 1153.19,422.41 1154.65,420.94 1156.13,419.48 1157.61,418.03 1159.11,416.60 1160.61,415.16 1162.13,413.74 1163.65,412.33 1165.19,410.93 1166.74,409.54 1168.30,408.17 1169.88,406.81 1171.47,405.47 1173.07,404.13 1174.68,402.81 1176.30,401.51 1177.94,400.22 1179.59,398.94 1181.24,397.67 1182.91,396.42 1184.59,395.18 1186.29,393.96 1187.99,392.75 1189.70,391.55 1191.43,390.37 1193.16,389.20 1194.91,388.05 1196.66,386.91 1198.43,385.79 1200.20,384.68 1201.99,383.59 1203.78,382.51 1205.59,381.44 1207.40,380.40 1209.23,379.36 1211.06,378.34 1212.90,377.34 1214.75,376.35 1216.61,375.38 1218.48,374.42 1220.36,373.48 1222.25,372.55 1224.14,371.64 1226.04,370.74 1227.95,369.87 1229.87,369.00 1231.80,368.15 1233.73,367.32 1235.67,366.51 1237.62,365.71 1239.57,364.92 1241.53,364.16 1243.50,363.41 1245.48,362.67 1247.46,361.95 1249.45,361.25 1251.44,360.57 1253.44,359.90 1255.45,359.25 1257.46,358.61 1259.48,357.99 1261.50,357.39 1263.53,356.81 1265.57,356.24 1267.61,355.69 1269.65,355.15 1271.70,354.64 1273.75,354.14 1275.81,353.65 1277.87,353.19 1279.94,352.74 1282.01,352.31 1284.08,351.89 1286.16,351.49 1288.24,351.11 1290.33,350.75 1292.41,350.41 1294.50,350.08 1296.60,349.77 1298.69,349.47 1300.79,349.20 1302.89,348.94 1305.00,348.70 1307.10,348.47 1309.21,348.27 1311.32,348.08 1313.43,347.90 1315.54,347.75 1317.66,347.61 1319.77,347.50 1321.89,347.39 1324.01,347.31 1326.13,347.24 1328.24,347.20 1330.36,347.16 1332.48,347.15 1334.60,347.18 1336.72,347.23 1338.84,347.30 1340.95,347.39 1343.07,347.49 1345.18,347.61 1347.29,347.75 1349.41,347.91 1351.52,348.08 1353.62,348.28 1355.73,348.48 1357.83,348.71 1359.93,348.95 1362.03,349.22 1364.13,349.49 1366.22,349.79 1368.31,350.10 1370.40,350.43 1372.49,350.78 1374.57,351.15 1376.65,351.53 1378.72,351.93 1380.79,352.34 1382.85,352.78 1384.92,353.23 1386.97,353.70 1389.03,354.18 1391.07,354.68 1393.12,355.20 1395.16,355.74 1397.19,356.29 1399.22,356.86 1401.24,357.44 1403.26,358.05 1405.27,358.67 1407.28,359.30 1409.28,359.95 1411.27,360.62 1413.26,361.31 1415.24,362.01 1417.21,362.73 1419.18,363.46 1421.14,364.21 1423.10,364.98 1425.05,365.76 1426.99,366.56 1428.92,367.37 1430.84,368.20 1432.76,369.04 1434.67,369.91 1436.57,370.78 1438.47,371.67 1440.35,372.58 1442.23,373.51 1444.10,374.45 1445.96,375.40 1447.81,376.37 1449.65,377.35 1451.48,378.36 1453.31,379.37 1455.12,380.40 1456.93,381.45 1458.72,382.51 1460.51,383.58 1462.28,384.67 1464.05,385.77 1465.80,386.89 1467.55,388.02 1469.28,389.17 1471.01,390.33 1472.72,391.51 1474.43,392.70 1476.12,393.90 1477.80,395.12 1479.47,396.35 1481.13,397.59 1482.77,398.85 1484.41,400.13 1486.03,401.41 1487.65,402.71 1489.25,404.02 1490.83,405.35 1492.41,406.68 1493.97,408.03 1495.53,409.40 1494.87,410.15 1493.29,408.83 1491.71,407.53 1490.11,406.23 1488.49,404.95 1486.87,403.69 1485.24,402.43 1483.59,401.19 1481.93,399.97 1480.27,398.76 1478.59,397.56 1476.90,396.38 1475.20,395.21 1473.49,394.05 1471.78,392.91 1470.05,391.79 1468.31,390.67 1466.56,389.58 1464.80,388.49 1463.03,387.43 1461.26,386.37 1459.47,385.33 1457.67,384.31 1455.87,383.30 1454.06,382.31 1452.23,381.33 1450.40,380.37 1448.57,379.42 1446.72,378.49 1444.86,377.57 1443.00,376.67 1441.13,375.79 1439.25,374.92 1437.36,374.06 1435.47,373.23 1433.57,372.40 1431.66,371.60 1429.74,370.81 1427.82,370.03 1425.89,369.27 1423.96,368.53 1422.02,367.80 1420.07,367.09 1418.11,366.40 1416.15,365.72 1414.19,365.06 1412.22,364.42 1410.24,363.79 1408.25,363.18 1406.27,362.58 1404.27,362.01 1402.27,361.45 1400.27,360.90 1398.26,360.37 1396.25,359.86 1394.24,359.37 1392.21,358.89 1390.19,358.43 1388.16,357.99 1386.13,357.56 1384.09,357.15 1382.05,356.76 1380.01,356.38 1377.97,356.02 1375.92,355.68 1373.86,355.35 1371.81,355.04 1369.75,354.75 1367.70,354.48 1365.63,354.22 1363.57,353.98 1361.51,353.76 1359.44,353.56 1357.37,353.37 1355.30,353.20 1353.23,353.04 1351.16,352.91 1349.08,352.79 1347.01,352.68 1344.94,352.60 1342.86,352.53 1340.79,352.48 1338.71,352.45 1336.63,352.43 1334.56,352.43 1332.48,352.45 1330.41,352.46 1328.33,352.48 1326.26,352.52 1324.18,352.58 1322.11,352.65 1320.04,352.74 1317.97,352.85 1315.89,352.98 1313.82,353.12 1311.76,353.28 1309.69,353.46 1307.62,353.65 1305.56,353.87 1303.50,354.09 1301.44,354.34 1299.38,354.60 1297.33,354.88 1295.27,355.18 1293.22,355.49 1291.18,355.83 1289.13,356.17 1287.09,356.54 1285.06,356.92 1283.02,357.32 1280.99,357.74 1278.97,358.17 1276.94,358.62 1274.93,359.08 1272.91,359.57 1270.90,360.07 1268.90,360.58 1266.90,361.12 1264.90,361.66 1262.91,362.23 1260.93,362.81 1258.95,363.41 1256.97,364.03 1255.00,364.66 1253.04,365.31 1251.08,365.97 1249.13,366.65 1247.18,367.35 1245.25,368.06 1243.31,368.79 1241.39,369.53 1239.47,370.29 1237.56,371.07 1235.65,371.86 1233.75,372.67 1231.86,373.50 1229.98,374.34 1228.10,375.19 1226.23,376.06 1224.37,376.95 1222.52,377.85 1220.68,378.77 1218.84,379.70 1217.02,380.64 1215.20,381.61 1213.39,382.58 1211.59,383.58 1209.79,384.58 1208.01,385.61 1206.24,386.64 1204.47,387.70 1202.72,388.76 1200.97,389.84 1199.24,390.94 1197.51,392.05 1195.79,393.17 1194.09,394.31 1192.39,395.46 1190.71,396.63 1189.04,397.81 1187.37,399.00 1185.72,400.21 1184.08,401.43 1182.45,402.67 1180.83,403.91 1179.22,405.18 1177.62,406.45 1176.03,407.74 1174.46,409.04 1172.90,410.36 1171.35,411.68 1169.81,413.02 1168.28,414.38 1166.77,415.74 1165.27,417.12 1163.78,418.51 1162.30,419.91 1160.85,421.34 1159.41,422.78 1157.98,424.23 1156.57,425.69 1155.17,427.17 1153.78,428.65 1152.41,430.15 1151.05,431.66 1149.71,433.18 1148.37,434.71 1147.06,436.25 1145.75,437.80 1144.46,439.36 1143.19,440.93 1141.92,442.52 1140.68,444.11 1139.44,445.72 1138.23,447.33 1137.02,448.95 1135.83,450.59 1134.66,452.23 1133.50,453.88 1132.35,455.55 1131.23,457.22 1130.11,458.90 1129.01,460.59 1127.93,462.29 1126.86,463.99 1125.81,465.71 1124.77,467.44 1123.75,469.17 1122.74,470.91 1121.75,472.66 1120.78,474.42 1119.82,476.18 1118.88,477.96 1117.95,479.74 1117.04,481.53 1116.14,483.32 1115.27,485.12 1114.40,486.93 1113.56,488.75 1112.73,490.58 1111.92,492.41 1111.12,494.24 1110.34,496.09 1109.58,497.94 1108.83,499.79 1108.10,501.65 1107.39,503.52 1106.69,505.39 1106.02,507.27 1105.35,509.16 1104.71,511.05 1104.08,512.94 1103.47,514.84 1102.88,516.75 1102.30,518.66 1101.74,520.57 1101.20,522.49 1100.67,524.41 1100.17,526.34 1099.68,528.27 1099.20,530.20 1098.75,532.14 1098.31,534.08 1097.89,536.03 1097.49,537.98 1097.10,539.93 1096.73,541.89 1096.38,543.84 1096.05,545.80 1095.74,547.77 1095.44,549.73 1095.16,551.70 1094.90,553.67 1094.65,555.64 1094.43,557.61 1094.22,559.59 1094.03,561.57 1093.85,563.54 1093.70,565.52 1093.56,567.50 1093.44,569.48 1093.34,571.47 1093.25,573.45 1093.19,575.43 1093.14,577.42 1093.11,579.40 1093.10,581.38 1093.10,583.37 1093.11,585.35 1093.13,587.33 1093.17,589.32 1093.23,591.30 1093.31,593.28 1093.41,595.26 1093.52,597.24 1093.65,599.22 1093.80,601.20 1093.97,603.18 1094.15,605.16 1094.36,607.13 1094.58,609.10 1094.81,611.07 1095.07,613.04 1095.34,615.01 1095.63,616.97 1095.94,618.94 1096.27,620.90 1096.61,622.85 1096.97,624.81 1097.35,626.76 1097.75,628.70 1098.16,630.65 1098.59,632.59 1099.04,634.53 1099.51,636.46 1099.99,638.39 1100.49,640.31 1101.01,642.23 1101.55,644.15 1102.10,646.06 1102.67,647.97 1103.25,649.87 1103.86,651.77 1104.48,653.67 1105.12,655.55 1105.77,657.44 1106.44,659.31 1107.13,661.18 1107.84,663.05 1108.56,664.91 1109.30,666.76 1110.05,668.61 1110.83,670.45 1111.62,672.29 1112.42,674.12 1113.24,675.94 1114.08,677.75 1114.93,679.56 1115.80,681.36 1116.69,683.16 1117.59,684.94 1118.51,686.72 1119.45,688.49 1120.40,690.26 1121.36,692.01 1122.34,693.76 1123.34,695.50 1124.36,697.23 1125.38,698.95 1126.43,700.67 1127.49,702.37 1128.56,704.07 1129.65,705.75 1130.76,707.43 1131.88,709.10 1133.02,710.76 1134.17,712.41 1135.33,714.05 1136.51,715.69 1137.71,717.31 1138.91,718.92 1140.14,720.52 1141.38,722.11 1142.63,723.69 1143.89,725.26 1145.17,726.82 1146.47,728.37 1147.78,729.91 1149.10,731.44 1150.44,732.96 1151.78,734.46 1153.15,735.96 1154.52,737.44 1155.91,738.91 1157.32,740.37 1158.73,741.82 1160.16,743.26 1161.60,744.68 1163.06,746.10 1164.54,747.48 1166.04,748.85 1167.55,750.20 1169.08,751.55 1170.61,752.88 1172.16,754.19 1173.71,755.50 1175.28,756.79 1176.86,758.07 1178.46,759.33 1180.06,760.59 1181.67,761.82 1183.30,763.05 1184.93,764.26 1186.58,765.46 1188.24,766.64 1189.91,767.81 1191.58,768.97 1193.27,770.11 1194.97,771.23 1196.68,772.35 1198.40,773.45 1200.12,774.53 1201.86,775.60 1203.61,776.66 1205.36,777.70 1207.13,778.72 1208.90,779.74 1210.68,780.73 1212.48,781.71 1214.28,782.68 1216.08,783.63 1217.90,784.57 1219.73,785.49 1221.56,786.40 1223.40,787.29 1225.25,788.16 1227.11,789.02 1228.97,789.87 1230.84,790.70 1232.72,791.51 1234.60,792.31 1236.50,793.09 1238.40,793.85 1240.30,794.60 1242.22,795.34 1244.13,796.06 1246.06,796.76 1247.99,797.45 1249.93,798.12 1251.87,798.77 1253.82,799.41 1255.77,800.03 1257.73,800.63 1259.70,801.22 1261.67,801.80 1263.64,802.35 1265.62,802.89 1267.60,803.42 1269.59,803.92 1271.59,804.41 1273.58,804.89 1275.58,805.34 1277.59,805.78 1279.60,806.21 1281.61,806.61 1283.62,807.00 1285.64,807.38 1287.67,807.73 1289.69,808.07 1291.72,808.41 1293.74,808.75 1295.77,809.08 1297.80,809.38 1299.83,809.68 1301.87,809.95 1303.91,810.21 1305.95,810.45 1307.99,810.68 1310.04,810.89 1312.08,811.08 1314.13,811.25 1316.18,811.41 1318.23,811.55 1320.29,811.67 1322.34,811.78 1324.40,811.87 1326.45,811.94 1328.51,811.99 1330.57,812.03 1332.62,812.05 1334.68,812.05 1336.74,812.04 1338.80,812.01 1340.85,811.96 1342.91,811.90 1344.97,811.82 1347.02,811.72 1349.08,811.60 1351.13,811.47 1353.18,811.32 1355.24,811.15 1357.28,810.97 1359.33,810.77 1361.38,810.55 1363.42,810.31 1365.47,810.06 1367.51,809.79 1369.54,809.51 1371.58,809.21 1373.61,808.89 1375.64,808.56 1377.67,808.21 1379.69,807.85 1381.72,807.47 1383.73,807.07 1385.75,806.65 1387.76,806.22 1389.77,805.78 1391.77,805.31 1393.77,804.83 1395.76,804.34 1397.75,803.82 1399.74,803.29 1401.72,802.75 1403.70,802.18 1405.67,801.60 1407.63,801.01 1409.60,800.40 1411.55,799.77 1413.50,799.12 1415.44,798.46 1417.38,797.78 1419.31,797.09 1421.24,796.38 1423.16,795.66 1425.07,794.92 1426.98,794.16 1428.88,793.39 1430.77,792.60 1432.66,791.79 1434.54,790.97 1436.41,790.14 1438.27,789.29 1440.13,788.42 1441.98,787.54 1443.82,786.64 1445.65,785.73 1447.47,784.80 1449.29,783.86 1451.10,782.90 1452.90,781.93 1454.69,780.94 1456.47,779.94 1458.24,778.92 1460.00,777.89 1461.76,776.84 1463.50,775.78 1465.24,774.70 1466.97,773.61 1468.68,772.50 1470.39,771.39 1472.08,770.25 1473.77,769.10 1475.45,767.94 1477.11,766.77 1478.77,765.58 1480.41,764.38 1482.04,763.16 1483.67,761.93 1485.28,760.68 1486.88,759.43 1488.47,758.16 1490.05,756.87 1491.61,755.58 1493.17,754.27 1494.71,752.94 1496.24,751.61 1497.76,750.26 1499.27,748.90 1500.76,747.52 1502.24,746.14 1503.70,744.72 1505.14,743.30 1506.57,741.86 1507.98,740.41 1509.39,738.95 1510.78,737.47 1512.15,735.99 1513.51,734.49 1514.86,732.98 1516.20,731.46 1517.52,729.94 1518.83,728.39 1520.12,726.84 1521.40,725.28 1522.67,723.71 1523.92,722.13 1525.15,720.53 1526.38,718.93 1527.59,717.32 1528.78,715.70 1529.96,714.06 1531.12,712.42 1532.27,710.77 1533.41,709.11 1534.53,707.44 1535.63,705.76 1536.72,704.07 1537.79,702.37 1538.85,700.66 1539.90,698.95 1540.92,697.22 1541.94,695.49 1542.93,693.75 1543.91,692.00 1544.88,690.25 1545.83,688.48 1546.76,686.71 1547.68,684.93 1548.58,683.14 1549.47,681.35 1550.34,679.55 1551.19,677.74 1552.03,675.92 1552.85,674.10 1553.65,672.27 1554.44,670.43 1555.21,668.59 1555.96,666.74 1556.70,664.89 1557.42,663.03 1558.12,661.16 1558.81,659.29 1559.48,657.41 1560.14,655.52 1560.77,653.64 1561.39,651.74 1561.99,649.84 1562.58,647.94 1563.15,646.03 1563.70,644.12 1564.23,642.20 1564.75,640.28 1565.25,638.35 1565.73,636.42 1566.20,634.49 1566.64,632.55 1567.07,630.61 1567.49,628.66 1567.88,626.72 1568.26,624.77 1568.62,622.81 1568.96,620.85 1569.28,618.90 1569.59,616.93 1569.88,614.97 1570.15,613.00 1570.41,611.03 1570.64,609.06 1570.86,607.09 1571.06,605.11 1571.25,603.14 1571.41,601.16 1571.56,599.18 1571.69,597.20 1571.80,595.22 1571.90,593.24 1571.97,591.26 1572.03,589.27 1572.07,587.29 1572.09,585.31 1572.10,583.32 1572.10,581.34 1572.09,579.35 1572.06,577.37 1572.01,575.39 1571.94,573.40 1571.85,571.42 1571.75,569.44 1571.63,567.46 1571.49,565.48 1571.33,563.50 1571.16,561.52 1570.97,559.55 1570.76,557.57 1570.53,555.60 1570.29,553.63 1570.02,551.66 1569.75,549.69 1569.46,547.72 1569.15,545.76 1568.82,543.80 1568.47,541.84 1568.11,539.88 1567.73,537.93 1567.34,535.98 1566.92,534.03 1566.49,532.09 1566.04,530.15 1565.57,528.21 1565.09,526.28 1564.59,524.35 1564.07,522.42 1563.53,520.50 1562.97,518.59 1562.40,516.68 1561.82,514.77 1561.21,512.87 1560.59,510.97 1559.95,509.07 1559.29,507.19 1558.62,505.31 1557.93,503.43 1557.22,501.56 1556.49,499.69 1555.75,497.83 1555.00,495.98 1554.25,494.12 1553.48,492.27 1552.69,490.43 1551.88,488.59 1551.06,486.76 1550.22,484.93 1549.36,483.12 1548.49,481.30 1547.60,479.50 1546.70,477.70 1545.78,475.91 1544.84,474.13 1543.89,472.36 1542.92,470.59 1541.93,468.83 1540.93,467.08 1539.92,465.33 1538.88,463.60 1537.83,461.87 1536.77,460.15 1535.69,458.44 1534.59,456.74 1533.48,455.05 1532.36,453.36 1531.22,451.69 1530.06,450.02 1528.89,448.37 1527.70,446.72 1526.51,445.08 1525.30,443.44 1524.08,441.82 1522.84,440.20 1521.59,438.60 1520.32,437.00 1519.04,435.42 1517.75,433.84 1516.44,432.28 1515.11,430.72 1513.77,429.18 1512.42,427.65 1511.05,426.13 1509.67,424.62 1508.28,423.12 1506.87,421.63" fill="#6fb24f"/>
<polyline points="1404.35,804.45 1402.25,805.06 1400.14,805.65 1398.03,806.23 1395.91,806.78 1393.79,807.32 1391.66,807.84 1389.52,808.33 1387.38,808.81 1385.24,809.28 1383.09,809.72 1380.94,810.14 1378.79,810.55 1376.63,810.93 1374.46,811.30 1372.30,811.65 1370.13,811.98 1367.96,812.30 1365.78,812.59 1363.61,812.87 1361.43,813.12 1359.25,813.36 1357.06,813.58 1354.88,813.78 1352.69,813.96" fill="none" stroke="#fff" stroke-width="0.54" stroke-opacity="0.54" stroke-linecap="round"/>
<polyline points="1344.27,817.66 1342.54,817.73 1340.81,817.80 1339.09,817.85 1337.36,817.89 1335.63,817.92 1333.90,817.93 1332.17,817.94 1330.44,817.93 1328.71,817.92 1326.99,817.89 1325.26,817.84 1323.53,817.79 1321.80,817.73 1320.07,817.65 1318.35,817.56 1316.62,817.46 1314.90,817.35 1313.17,817.22 1311.45,817.09 1309.73,816.94 1308.00,816.78 1306.28,816.61 1304.57,816.43 1302.85,816.23" fill="none" stroke="#fff" stroke-width="0.63" stroke-opacity="0.38" stroke-linecap="round"/>
<polyline points="1267.27,809.38 1264.67,808.66 1262.09,807.92 1259.51,807.15 1256.93,806.35 1254.37,805.52 1251.82,804.67 1249.28,803.79 1246.75,802.88 1244.23,801.95 1241.72,800.99 1239.22,800.00 1236.73,798.99 1234.26,797.95 1231.80,796.88 1229.35,795.79 1226.91,794.67 1224.49,793.53 1222.07,792.36 1219.68,791.16 1217.29,789.94 1214.92,788.70 1212.57,787.43 1210.23,786.13 1207.91,784.81" fill="none" stroke="#fff" stroke-width="0.75" stroke-opacity="0.64" stroke-linecap="round"/>
<polyline points="1576.08,595.91 1575.93,598.41 1575.74,600.90 1575.53,603.40 1575.29,605.90 1575.03,608.39 1574.73,610.88 1574.41,613.36 1574.06,615.84 1573.69,618.32 1573.28,620.80 1572.85,623.27 1572.39,625.73 1571.90,628.19 1571.39,630.65 1570.85,633.10 1570.28,635.54 1569.68,637.98 1569.06,640.41 1568.41,642.84 1567.73,645.26 1567.03,647.67 1566.30,650.07 1565.54,652.47 1564.76,654.86" fill="none" stroke="#fff" stroke-width="1.07" stroke-opacity="0.55" stroke-linecap="round"/>
<polyline points="1298.89,812.34 1292.43,811.36 1286.01,810.25 1279.61,808.99 1273.25,807.56 1266.93,805.96 1260.65,804.20 1254.43,802.28 1248.27,800.20 1242.16,797.95 1236.12,795.55 1230.15,792.99 1224.26,790.27 1218.44,787.40 1212.70,784.39 1207.05,781.22 1201.49,777.90 1196.03,774.45 1190.66,770.85 1185.40,767.11 1180.25,763.23 1175.20,759.22 1170.27,755.09 1165.46,750.82 1160.78,746.42" fill="none" stroke="#fff" stroke-width="0.83" stroke-opacity="0.40" stroke-linecap="round"/>
<polyline points="1265.89,809.00 1261.77,807.82 1257.67,806.58 1253.59,805.27 1249.54,803.88 1245.52,802.43 1241.52,800.91 1237.55,799.33 1233.61,797.67 1229.71,795.95 1225.83,794.17 1221.99,792.32 1218.18,790.40 1214.41,788.42 1210.67,786.38 1206.98,784.27 1203.32,782.11 1199.70,779.88 1196.13,777.59 1192.60,775.24 1189.11,772.83 1185.66,770.36 1182.27,767.83 1178.92,765.25 1175.61,762.61" fill="none" stroke="#fff" stroke-width="0.69" stroke-opacity="0.64" stroke-linecap="round"/>
<polyline points="1556.46,674.13 1554.67,678.10 1552.81,682.03 1550.87,685.93 1548.86,689.79 1546.77,693.62 1544.61,697.41 1542.37,701.16 1540.07,704.87 1537.69,708.54 1535.24,712.16 1532.73,715.75 1530.14,719.28 1527.49,722.77 1524.77,726.21 1521.99,729.60 1519.14,732.95 1516.22,736.24 1513.24,739.48 1510.21,742.66 1507.11,745.79 1503.95,748.87 1500.73,751.89 1497.45,754.85 1494.12,757.75" fill="none" stroke="#fff" stroke-width="0.72" stroke-opacity="0.54" stroke-linecap="round"/>
<polyline points="1563.51,510.57 1564.04,512.15 1564.56,513.73 1565.07,515.32 1565.57,516.91 1566.06,518.51 1566.53,520.11 1566.99,521.71 1567.44,523.31 1567.88,524.92 1568.31,526.53 1568.72,528.14 1569.13,529.76 1569.52,531.38 1569.90,533.00 1570.26,534.63 1570.62,536.25 1570.96,537.88 1571.29,539.51 1571.61,541.15 1571.91,542.78 1572.21,544.42 1572.49,546.06 1572.76,547.70 1573.02,549.35" fill="none" stroke="#fff" stroke-width="0.80" stroke-opacity="0.54" stroke-linecap="round"/>
<polyline points="1178.24,403.56 1181.25,401.21 1184.30,398.91 1187.39,396.66 1190.51,394.46 1193.67,392.30 1196.86,390.19 1200.09,388.14 1203.35,386.13 1206.65,384.17 1209.98,382.26 1213.34,380.41 1216.72,378.61 1220.14,376.85 1223.59,375.16 1227.07,373.51 1230.57,371.92 1234.10,370.38 1237.65,368.90 1241.23,367.47 1244.83,366.09 1248.45,364.78 1252.10,363.51 1255.76,362.31 1259.45,361.16" fill="none" stroke="#fff" stroke-width="0.72" stroke-opacity="0.44" stroke-linecap="round"/>
<polyline points="1555.66,672.30 1553.50,677.17 1551.21,681.99 1548.81,686.76 1546.30,691.48 1543.68,696.14 1540.95,700.74 1538.11,705.28 1535.16,709.75 1532.11,714.17 1528.95,718.51 1525.69,722.78 1522.33,726.98 1518.87,731.11 1515.31,735.16 1511.66,739.13 1507.91,743.02 1504.07,746.83 1500.13,750.53 1496.10,754.15 1491.98,757.67 1487.78,761.10 1483.50,764.44 1479.14,767.69 1474.71,770.83" fill="none" stroke="#fff" stroke-width="0.84" stroke-opacity="0.53" stroke-linecap="round"/>
<polyline points="1309.42,349.82 1314.70,349.38 1319.99,349.06 1325.29,348.85 1330.59,348.75 1335.89,348.78 1341.19,348.93 1346.49,349.19 1351.78,349.56 1357.05,350.04 1362.32,350.63 1367.57,351.33 1372.80,352.15 1378.01,353.07 1383.20,354.09 1388.36,355.23 1393.50,356.47 1398.61,357.82 1403.68,359.28 1408.72,360.84 1413.73,362.51 1418.69,364.28 1423.61,366.15 1428.49,368.13 1433.33,370.20" fill="none" stroke="#fff" stroke-width="0.87" stroke-opacity="0.38" stroke-linecap="round"/>
<polyline points="1150.63,739.97 1149.10,738.32 1147.59,736.65 1146.09,734.97 1144.61,733.28 1143.15,731.57 1141.71,729.85 1140.28,728.11 1138.87,726.37 1137.47,724.61 1136.10,722.84 1134.74,721.05 1133.39,719.26 1132.07,717.45 1130.76,715.63 1129.48,713.80 1128.20,711.95 1126.95,710.10 1125.72,708.23 1124.50,706.35 1123.30,704.47 1122.13,702.57 1120.97,700.66 1119.82,698.74 1118.70,696.81" fill="none" stroke="#fff" stroke-width="0.59" stroke-opacity="0.52" stroke-linecap="round"/>
<polyline points="1550.85,479.38 1553.03,483.66 1555.12,488.00 1557.12,492.37 1559.02,496.78 1560.82,501.23 1562.52,505.72 1564.13,510.24 1565.65,514.79 1567.06,519.37 1568.38,523.97 1569.60,528.61 1570.72,533.26 1571.75,537.94 1572.67,542.63 1573.50,547.34 1574.22,552.07 1574.84,556.81 1575.36,561.57 1575.77,566.33 1576.09,571.10 1576.31,575.88 1576.42,580.66 1576.43,585.44 1576.33,590.21" fill="none" stroke="#fff" stroke-width="0.84" stroke-opacity="0.66" stroke-linecap="round"/>
<polyline points="1419.29,802.48 1414.49,804.19 1409.65,805.80 1404.78,807.32 1399.88,808.74 1394.94,810.05 1389.98,811.27 1384.99,812.39 1379.98,813.41 1374.95,814.32 1369.90,815.13 1364.83,815.84 1359.75,816.45 1354.65,816.95 1349.55,817.35 1344.43,817.65 1339.32,817.84 1334.19,817.93 1329.07,817.92 1323.95,817.80 1318.83,817.59 1313.72,817.26 1308.62,816.84 1303.52,816.31 1298.44,815.68" fill="none" stroke="#fff" stroke-width="0.80" stroke-opacity="0.63" stroke-linecap="round"/>
<polyline points="1567.25,518.32 1567.78,520.09 1568.29,521.87 1568.80,523.65 1569.28,525.43 1569.76,527.22 1570.21,529.01 1570.66,530.81 1571.09,532.61 1571.50,534.41 1571.90,536.22 1572.29,538.02 1572.66,539.83 1573.01,541.65 1573.35,543.47 1573.68,545.28 1573.99,547.11 1574.28,548.93 1574.56,550.76 1574.83,552.58 1575.07,554.41 1575.31,556.25 1575.53,558.08 1575.73,559.92 1575.92,561.75" fill="none" stroke="#fff" stroke-width="0.78" stroke-opacity="0.58" stroke-linecap="round"/>
<polyline points="1563.17,507.48 1564.79,512.18 1566.31,516.90 1567.73,521.66 1569.05,526.44 1570.25,531.25 1571.36,536.09 1572.35,540.94 1573.24,545.82 1574.02,550.71 1574.69,555.61 1575.25,560.53 1575.71,565.47 1576.05,570.40 1576.29,575.35 1576.42,580.30 1576.43,585.25 1576.33,590.20 1576.12,595.14 1575.81,600.08 1575.38,605.02 1574.85,609.94 1574.21,614.85 1573.46,619.75 1572.60,624.63" fill="none" stroke="#fff" stroke-width="1.10" stroke-opacity="0.64" stroke-linecap="round"/>
<polyline points="1458.35,784.81 1455.36,786.52 1452.34,788.19 1449.30,789.82 1446.24,791.41 1443.15,792.95 1440.04,794.45 1436.91,795.91 1433.76,797.33 1430.58,798.70 1427.39,800.03 1424.17,801.32 1420.94,802.56 1417.69,803.76 1414.42,804.91 1411.13,806.02 1407.83,807.09 1404.51,808.10 1401.18,809.08 1397.84,810.00 1394.48,810.89 1391.10,811.72 1387.72,812.51 1384.32,813.25 1380.91,813.95" fill="none" stroke="#fff" stroke-width="0.51" stroke-opacity="0.51" stroke-linecap="round"/>
<polyline points="1561.67,656.83 1561.03,658.67 1560.36,660.51 1559.68,662.34 1558.99,664.16 1558.28,665.98 1557.55,667.79 1556.81,669.60 1556.05,671.40 1555.28,673.19 1554.49,674.98 1553.68,676.76 1552.86,678.54 1552.02,680.31 1551.17,682.07 1550.31,683.82 1549.42,685.57 1548.53,687.31 1547.61,689.05 1546.69,690.77 1545.74,692.49 1544.79,694.20 1543.81,695.90 1542.83,697.60 1541.83,699.29" fill="none" stroke="#fff" stroke-width="0.63" stroke-opacity="0.45" stroke-linecap="round"/>
<polyline points="1138.80,443.25 1140.93,440.56 1143.10,437.90 1145.31,435.27 1147.56,432.68 1149.85,430.11 1152.18,427.58 1154.54,425.08 1156.95,422.61 1159.39,420.18 1161.86,417.78 1164.38,415.42 1166.93,413.10 1169.52,410.81 1172.14,408.56 1174.79,406.34 1177.48,404.16 1180.20,402.02 1182.95,399.92 1185.74,397.85 1188.55,395.83 1191.40,393.84 1194.27,391.90 1197.17,389.99 1200.11,388.13" fill="none" stroke="#fff" stroke-width="0.55" stroke-opacity="0.51" stroke-linecap="round"/>
<polyline points="1120.23,695.44 1117.37,690.28 1114.64,685.06 1112.06,679.78 1109.61,674.43 1107.30,669.03 1105.13,663.57 1103.11,658.06 1101.23,652.51 1099.50,646.91 1097.92,641.27 1096.48,635.59 1095.19,629.89 1094.05,624.15 1093.06,618.39 1092.22,612.60 1091.53,606.80 1091.00,600.98 1090.61,595.15 1090.38,589.32 1090.30,583.48 1090.36,577.64 1090.58,571.80 1090.95,565.97 1091.47,560.15" fill="none" stroke="#fff" stroke-width="1.02" stroke-opacity="0.45" stroke-linecap="round"/>
<polyline points="1271.89,808.41 1268.70,807.60 1265.52,806.75 1262.35,805.86 1259.19,804.92 1256.05,803.95 1252.92,802.93 1249.80,801.87 1246.70,800.78 1243.62,799.64 1240.55,798.46 1237.50,797.24 1234.47,795.98 1231.45,794.68 1228.46,793.34 1225.48,791.96 1222.52,790.55 1219.59,789.09 1216.67,787.60 1213.78,786.06 1210.91,784.49 1208.06,782.89 1205.23,781.24 1202.42,779.56 1199.65,777.84" fill="none" stroke="#fff" stroke-width="1.07" stroke-opacity="0.40" stroke-linecap="round"/>
<polyline points="1558.96,668.21 1557.99,670.57 1556.99,672.92 1555.96,675.26 1554.91,677.59 1553.83,679.91 1552.72,682.22 1551.59,684.51 1550.43,686.79 1549.24,689.06 1548.03,691.32 1546.80,693.57 1545.54,695.80 1544.25,698.02 1542.94,700.23 1541.60,702.42 1540.24,704.59 1538.86,706.76 1537.45,708.91 1536.01,711.04 1534.55,713.16 1533.07,715.26 1531.57,717.35 1530.04,719.42 1528.48,721.48" fill="none" stroke="#fff" stroke-width="0.51" stroke-opacity="0.64" stroke-linecap="round"/>
<polyline points="1555.52,676.24 1554.35,678.80 1553.14,681.34 1551.91,683.87 1550.64,686.39 1549.34,688.89 1548.01,691.37 1546.65,693.84 1545.25,696.29 1543.83,698.73 1542.38,701.15 1540.89,703.56 1539.38,705.94 1537.84,708.31 1536.27,710.66 1534.67,713.00 1533.04,715.31 1531.38,717.61 1529.69,719.88 1527.98,722.14 1526.23,724.38 1524.46,726.59 1522.66,728.79 1520.84,730.97 1518.99,733.12" fill="none" stroke="#fff" stroke-width="0.75" stroke-opacity="0.48" stroke-linecap="round"/>
<polyline points="1108.03,674.54 1105.58,668.76 1103.30,662.93 1101.17,657.03 1099.21,651.09 1097.41,645.10 1095.78,639.06 1094.32,632.99 1093.03,626.88 1091.90,620.73 1090.95,614.56 1090.17,608.37 1089.56,602.16 1089.12,595.94 1088.85,589.71 1088.76,583.47 1088.85,577.24 1089.11,571.01 1089.55,564.79 1090.16,558.58 1090.94,552.39 1091.89,546.22 1093.01,540.08 1094.30,533.97 1095.76,527.89" fill="none" stroke="#fff" stroke-width="1.07" stroke-opacity="0.58" stroke-linecap="round"/>
<polyline points="1139.20,440.96 1141.57,438.05 1143.98,435.17 1146.44,432.33 1148.95,429.53 1151.50,426.77 1154.10,424.05 1156.74,421.37 1159.42,418.72 1162.15,416.12 1164.91,413.55 1167.72,411.03 1170.57,408.55 1173.46,406.11 1176.39,403.72 1179.35,401.37 1182.36,399.07 1185.40,396.81 1188.48,394.60 1191.60,392.44 1194.75,390.33 1197.93,388.26 1201.15,386.24 1204.40,384.27 1207.68,382.35" fill="none" stroke="#fff" stroke-width="0.74" stroke-opacity="0.49" stroke-linecap="round"/>
<polyline points="1573.52,567.25 1573.79,571.80 1573.97,576.35 1574.05,580.91 1574.05,585.47 1573.96,590.03 1573.78,594.58 1573.51,599.13 1573.14,603.68 1572.68,608.21 1572.13,612.74 1571.49,617.26 1570.75,621.76 1569.92,626.25 1569.00,630.72 1567.99,635.18 1566.89,639.61 1565.69,644.02 1564.41,648.41 1563.04,652.78 1561.57,657.12 1560.02,661.43 1558.39,665.70 1556.66,669.95 1554.85,674.17" fill="none" stroke="#fff" stroke-width="0.61" stroke-opacity="0.69" stroke-linecap="round"/>
<polygon points="883.00,342.50 885.80,342.31 889.46,342.05 893.81,341.75 898.69,341.41 903.91,341.05 909.32,340.69 914.74,340.33 920.00,340.00 925.24,339.67 930.69,339.33 936.29,338.98 942.00,338.62 947.77,338.28 953.56,337.96 959.32,337.66 965.00,337.40 970.62,337.18 976.25,337.00 981.88,336.85 987.50,336.72 993.12,336.59 998.75,336.45 1004.38,336.29 1010.00,336.10 1015.62,335.87 1021.25,335.61 1026.88,335.34 1032.50,335.05 1038.12,334.76 1043.75,334.49 1049.38,334.23 1055.00,334.00 1060.59,333.79 1066.13,333.59 1071.66,333.40 1077.19,333.22 1082.76,333.06 1088.40,332.91 1094.14,332.79 1100.00,332.70 1106.08,332.62 1112.38,332.55 1118.82,332.49 1125.31,332.46 1131.76,332.45 1138.09,332.49 1144.19,332.57 1150.00,332.70 1155.50,332.86 1160.77,333.04 1165.86,333.24 1170.81,333.49 1175.66,333.80 1180.45,334.20 1185.21,334.69 1190.00,335.30 1195.02,336.11 1200.33,337.15 1205.72,338.33 1211.00,339.56 1215.97,340.78 1220.42,341.90 1224.17,342.83 1227.00,343.50 1227.00,344.20 1224.17,343.89 1220.42,343.45 1215.97,342.93 1211.00,342.36 1205.72,341.78 1200.33,341.24 1195.02,340.76 1190.00,340.40 1185.21,340.14 1180.45,339.94 1175.66,339.79 1170.81,339.68 1165.86,339.61 1160.77,339.56 1155.50,339.53 1150.00,339.50 1144.19,339.49 1138.09,339.49 1131.76,339.52 1125.31,339.57 1118.82,339.64 1112.38,339.74 1106.08,339.86 1100.00,340.00 1094.14,340.19 1088.40,340.43 1082.76,340.71 1077.19,341.00 1071.66,341.29 1066.13,341.57 1060.59,341.81 1055.00,342.00 1049.38,342.13 1043.75,342.20 1038.12,342.24 1032.50,342.27 1026.88,342.29 1021.25,342.33 1015.62,342.39 1010.00,342.50 1004.38,342.65 998.75,342.84 993.12,343.05 987.50,343.27 981.88,343.50 976.25,343.74 970.62,343.97 965.00,344.20 959.22,344.43 953.21,344.66 947.11,344.90 941.06,345.14 935.19,345.38 929.63,345.60 924.52,345.81 920.00,346.00 916.10,346.19 912.72,346.40 909.76,346.61 907.12,346.80 904.73,346.95 902.47,347.05 900.26,347.07 898.00,347.00 895.69,346.80 893.41,346.46 891.20,346.04 889.12,345.56 887.22,345.08 885.53,344.63 884.11,344.26 883.00,344.00" fill="#6fb24f"/>
<polygon points="898.00,346.20 900.48,346.16 903.80,346.10 907.74,346.04 912.12,345.96 916.74,345.88 921.39,345.79 925.88,345.70 930.00,345.60 934.05,345.49 938.34,345.35 942.71,345.21 947.00,345.06 951.04,344.92 954.66,344.79 957.70,344.68 960.00,344.60 960.00,345.60 957.70,345.70 954.66,345.83 951.04,345.99 947.00,346.16 942.71,346.34 938.34,346.51 934.05,346.67 930.00,346.80 925.88,346.91 921.39,347.01 916.74,347.10 912.12,347.18 907.74,347.25 903.80,347.31 900.48,347.36 898.00,347.40" fill="#6fb24f" fill-opacity="0.50"/>
<polygon points="262.00,558.00 264.15,557.94 266.98,557.87 270.36,557.78 274.12,557.67 278.12,557.56 282.20,557.45 286.21,557.32 290.00,557.20 293.86,557.06 298.06,556.90 302.42,556.73 306.75,556.55 310.86,556.38 314.56,556.23 317.67,556.10 320.00,556.00 320.00,557.00 317.67,557.13 314.56,557.31 310.86,557.53 306.75,557.76 302.42,558.00 298.06,558.23 293.86,558.44 290.00,558.60 286.21,558.73 282.20,558.83 278.12,558.92 274.12,559.00 270.36,559.06 266.98,559.12 264.15,559.16 262.00,559.20" fill="#6fb24f" fill-opacity="0.50"/>
<polygon points="251.00,554.00 254.14,553.80 258.45,553.52 263.60,553.19 269.25,552.83 275.05,552.46 280.67,552.10 285.77,551.77 290.00,551.50 293.34,551.28 296.10,551.08 298.45,550.90 300.56,550.74 302.60,550.59 304.74,550.45 307.15,550.33 310.00,550.20 313.17,550.10 316.45,550.03 319.86,549.98 323.44,549.94 327.21,549.88 331.21,549.80 335.46,549.68 340.00,549.50 344.98,549.24 350.43,548.92 356.22,548.54 362.19,548.14 368.20,547.75 374.10,547.37 379.75,547.05 385.00,546.80 389.92,546.62 394.69,546.48 399.30,546.38 403.75,546.31 408.05,546.26 412.19,546.23 416.17,546.21 420.00,546.20 423.57,546.19 426.84,546.18 429.89,546.18 432.81,546.20 435.70,546.24 438.63,546.32 441.70,546.44 445.00,546.60 448.53,546.79 452.22,546.99 456.02,547.22 459.88,547.49 463.75,547.81 467.59,548.19 471.36,548.65 475.00,549.20 478.70,549.91 482.59,550.80 486.53,551.81 490.38,552.86 493.98,553.89 497.22,554.84 499.94,555.63 502.00,556.20 502.00,557.00 499.94,556.71 497.22,556.31 493.98,555.83 490.38,555.31 486.53,554.78 482.59,554.28 478.70,553.84 475.00,553.50 471.36,553.24 467.59,553.03 463.75,552.87 459.88,552.74 456.02,552.64 452.22,552.57 448.53,552.53 445.00,552.50 441.70,552.50 438.63,552.53 435.70,552.60 432.81,552.69 429.89,552.80 426.84,552.92 423.57,553.06 420.00,553.20 416.17,553.36 412.19,553.56 408.05,553.77 403.75,554.00 399.30,554.23 394.69,554.44 389.92,554.64 385.00,554.80 379.75,554.93 374.10,555.04 368.20,555.12 362.19,555.20 356.22,555.27 350.43,555.34 344.98,555.41 340.00,555.50 335.46,555.59 331.21,555.68 327.21,555.78 323.44,555.87 319.86,555.97 316.45,556.07 313.17,556.18 310.00,556.30 307.08,556.43 304.48,556.56 302.12,556.71 299.88,556.86 297.65,557.01 295.33,557.17 292.81,557.33 290.00,557.50 286.77,557.70 283.16,557.96 279.34,558.24 275.44,558.51 271.61,558.75 267.99,558.93 264.74,559.03 262.00,559.00 259.74,558.82 257.80,558.50 256.15,558.07 254.75,557.59 253.57,557.10 252.58,556.64 251.73,556.26 251.00,556.00" fill="#6fb24f"/>
<text x="984.60" y="252.90" font-size="63" textLength="120.20" lengthAdjust="spacingAndGlyphs">User</text>
<text x="898.00" y="320.00" font-size="63" textLength="310.40" lengthAdjust="spacingAndGlyphs">Registration</text>
<text x="279.60" y="529.40" font-size="63" textLength="198.40" lengthAdjust="spacingAndGlyphs">Catalog</text>
<text x="414.60" y="778.90" font-size="63" textLength="206.20" lengthAdjust="spacingAndGlyphs">Product</text>
<text x="1207.80" y="602.10" font-size="63" textLength="253.00" lengthAdjust="spacingAndGlyphs">Customer</text>
<text x="1606.80" y="398.20" font-size="63" textLength="293.00" lengthAdjust="spacingAndGlyphs">Accounting</text>
<text x="645.60" y="1026.00" font-size="63" textLength="176.20" lengthAdjust="spacingAndGlyphs">Orders</text>
<text x="1334.20" y="887.70" font-size="63" textLength="234.60" lengthAdjust="spacingAndGlyphs">Shipping</text>
<text x="1612.20" y="520.70" font-size="31" textLength="277.40" lengthAdjust="spacingAndGlyphs" stroke="#505050" stroke-width="0.5">Payment information</text>
<text x="1655.00" y="554.70" font-size="31" textLength="194.40" lengthAdjust="spacingAndGlyphs" stroke="#505050" stroke-width="0.5">Billing Address</text>
<text x="1335.40" y="1017.40" font-size="31" textLength="228.20" lengthAdjust="spacingAndGlyphs" stroke="#505050" stroke-width="0.5">Shipping address</text>
</svg>
</body></html>
